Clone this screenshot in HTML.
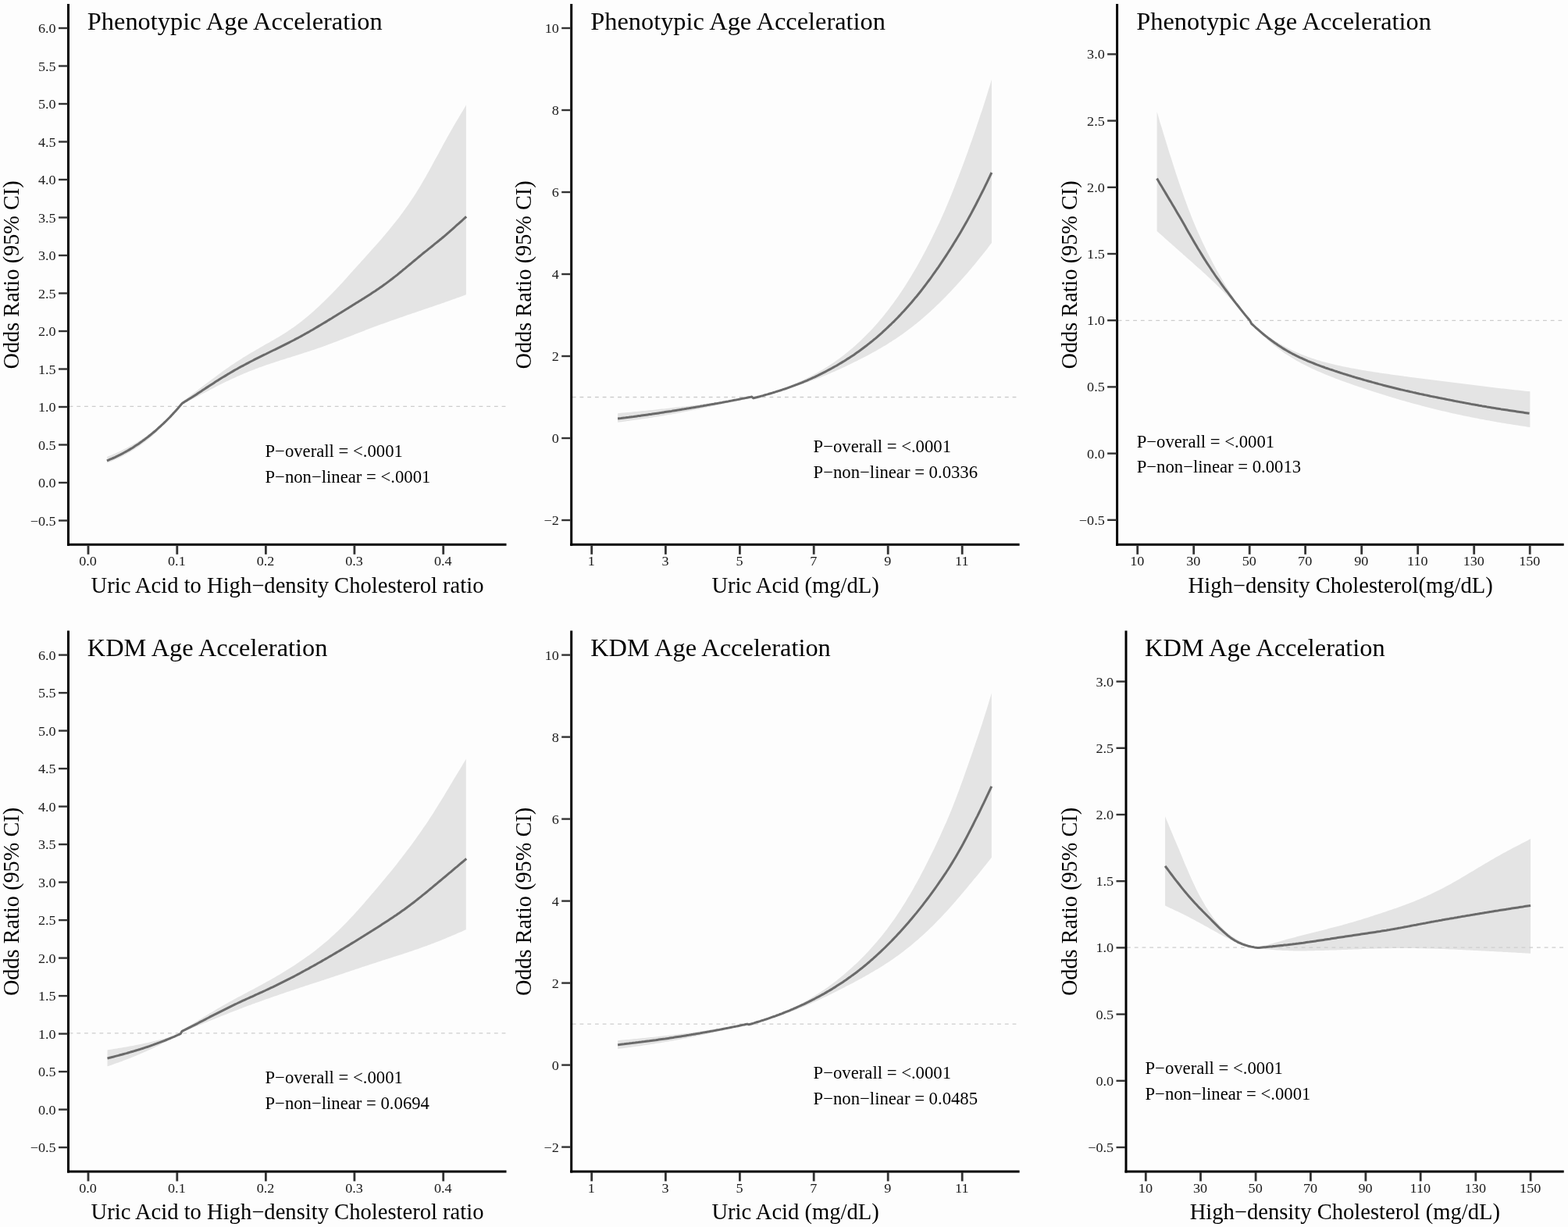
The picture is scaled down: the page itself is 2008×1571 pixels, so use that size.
<!DOCTYPE html><html><head><meta charset="utf-8"><style>html,body{margin:0;padding:0;background:#fdfdfd;}svg{display:block;}text{font-family:"Liberation Serif","Times New Roman",serif;}</style></head><body>
<svg xmlns="http://www.w3.org/2000/svg" width="2008" height="1571" viewBox="0 0 2008 1571">
<rect width="2008" height="1571" fill="#fdfdfd"/>
<path d="M137.2,584.8 L139.2,584.0 L141.2,583.2 L143.2,582.4 L145.2,581.5 L147.2,580.7 L149.2,579.8 L151.2,578.9 L153.3,578.0 L155.3,577.0 L157.3,576.0 L159.3,575.1 L161.3,574.0 L163.3,573.0 L165.3,571.9 L167.3,570.8 L169.3,569.7 L171.3,568.6 L173.3,567.4 L175.3,566.2 L177.3,565.0 L179.3,563.7 L181.3,562.4 L183.3,561.1 L185.4,559.7 L187.4,558.4 L189.4,557.0 L191.4,555.5 L193.4,554.0 L195.4,552.5 L197.4,551.0 L199.4,549.4 L201.4,547.8 L203.4,546.1 L205.4,544.4 L207.4,542.7 L209.4,540.9 L211.4,539.1 L213.4,537.3 L215.4,535.4 L217.5,533.5 L219.5,531.5 L221.5,529.5 L223.5,527.4 L225.5,525.3 L227.5,523.1 L229.5,520.9 L231.5,518.7 L233.5,514.1 L235.5,512.6 L237.5,511.2 L239.5,509.7 L241.5,508.3 L243.5,506.8 L245.6,505.3 L247.6,503.8 L249.6,502.2 L251.6,500.7 L253.6,499.2 L255.6,497.6 L257.6,496.1 L259.6,494.6 L261.6,493.0 L263.6,491.5 L265.6,490.0 L267.6,488.4 L269.6,486.9 L271.7,485.4 L273.7,483.9 L275.7,482.4 L277.7,480.9 L279.7,479.5 L281.7,478.0 L283.7,476.5 L285.7,475.1 L287.7,473.7 L289.7,472.3 L291.7,470.9 L293.7,469.5 L295.7,468.1 L297.8,466.7 L299.8,465.4 L301.8,464.1 L303.8,462.8 L305.8,461.5 L307.8,460.2 L309.8,458.9 L311.8,457.6 L313.8,456.4 L315.8,455.2 L317.8,454.0 L319.8,452.7 L321.8,451.5 L323.9,450.4 L325.9,449.2 L327.9,448.0 L329.9,446.9 L331.9,445.7 L333.9,444.6 L335.9,443.4 L337.9,442.3 L339.9,441.1 L341.9,440.0 L343.9,438.9 L345.9,437.7 L347.9,436.6 L350.0,435.4 L352.0,434.3 L354.0,433.1 L356.0,431.9 L358.0,430.7 L360.0,429.5 L362.0,428.2 L364.0,427.0 L366.0,425.7 L368.0,424.4 L370.0,423.1 L372.0,421.7 L374.0,420.3 L376.1,418.9 L378.1,417.5 L380.1,416.0 L382.1,414.5 L384.1,413.0 L386.1,411.4 L388.1,409.8 L390.1,408.2 L392.1,406.6 L394.1,404.9 L396.1,403.2 L398.1,401.5 L400.1,399.7 L402.2,397.9 L404.2,396.1 L406.2,394.3 L408.2,392.4 L410.2,390.5 L412.2,388.6 L414.2,386.7 L416.2,384.8 L418.2,382.8 L420.2,380.8 L422.2,378.8 L424.2,376.7 L426.2,374.7 L428.3,372.6 L430.3,370.5 L432.3,368.3 L434.3,366.2 L436.3,364.0 L438.3,361.9 L440.3,359.7 L442.3,357.5 L444.3,355.2 L446.3,353.0 L448.3,350.8 L450.3,348.6 L452.3,346.3 L454.4,344.1 L456.4,341.8 L458.4,339.6 L460.4,337.4 L462.4,335.1 L464.4,332.9 L466.4,330.7 L468.4,328.5 L470.4,326.3 L472.4,324.0 L474.4,321.8 L476.4,319.6 L478.4,317.3 L480.5,315.1 L482.5,312.8 L484.5,310.5 L486.5,308.2 L488.5,305.9 L490.5,303.6 L492.5,301.2 L494.5,298.8 L496.5,296.4 L498.5,294.0 L500.5,291.6 L502.5,289.1 L504.5,286.6 L506.6,284.1 L508.6,281.5 L510.6,278.9 L512.6,276.2 L514.6,273.6 L516.6,270.8 L518.6,268.1 L520.6,265.2 L522.6,262.4 L524.6,259.4 L526.6,256.5 L528.6,253.4 L530.6,250.4 L532.7,247.2 L534.7,244.0 L536.7,240.8 L538.7,237.5 L540.7,234.1 L542.7,230.6 L544.7,227.2 L546.7,223.6 L548.7,220.0 L550.7,216.4 L552.7,212.7 L554.7,209.0 L556.7,205.3 L558.8,201.6 L560.8,197.9 L562.8,194.2 L564.8,190.5 L566.8,186.8 L568.8,183.1 L570.8,179.4 L572.8,175.8 L574.8,172.2 L576.8,168.7 L578.8,165.2 L580.8,161.7 L582.8,158.3 L584.9,154.8 L586.9,151.5 L588.9,148.1 L590.9,144.7 L592.9,141.4 L594.9,138.0 L596.9,134.6 L596.9,377.2 L594.9,378.0 L592.9,378.7 L590.9,379.4 L588.9,380.2 L586.9,380.9 L584.9,381.6 L582.8,382.4 L580.8,383.1 L578.8,383.8 L576.8,384.5 L574.8,385.2 L572.8,385.9 L570.8,386.6 L568.8,387.4 L566.8,388.1 L564.8,388.8 L562.8,389.5 L560.8,390.1 L558.8,390.8 L556.7,391.5 L554.7,392.2 L552.7,392.9 L550.7,393.6 L548.7,394.3 L546.7,394.9 L544.7,395.6 L542.7,396.3 L540.7,397.0 L538.7,397.7 L536.7,398.3 L534.7,399.0 L532.7,399.7 L530.6,400.4 L528.6,401.1 L526.6,401.8 L524.6,402.4 L522.6,403.1 L520.6,403.8 L518.6,404.5 L516.6,405.2 L514.6,405.9 L512.6,406.6 L510.6,407.3 L508.6,408.0 L506.6,408.7 L504.5,409.4 L502.5,410.1 L500.5,410.8 L498.5,411.5 L496.5,412.2 L494.5,412.9 L492.5,413.7 L490.5,414.4 L488.5,415.1 L486.5,415.8 L484.5,416.6 L482.5,417.3 L480.5,418.0 L478.4,418.8 L476.4,419.5 L474.4,420.3 L472.4,421.1 L470.4,421.8 L468.4,422.6 L466.4,423.4 L464.4,424.2 L462.4,424.9 L460.4,425.7 L458.4,426.5 L456.4,427.3 L454.4,428.1 L452.3,428.9 L450.3,429.7 L448.3,430.4 L446.3,431.2 L444.3,432.0 L442.3,432.8 L440.3,433.6 L438.3,434.4 L436.3,435.1 L434.3,435.9 L432.3,436.7 L430.3,437.5 L428.3,438.2 L426.2,439.0 L424.2,439.7 L422.2,440.5 L420.2,441.2 L418.2,442.0 L416.2,442.7 L414.2,443.4 L412.2,444.2 L410.2,444.9 L408.2,445.6 L406.2,446.3 L404.2,447.0 L402.2,447.7 L400.1,448.3 L398.1,449.0 L396.1,449.7 L394.1,450.3 L392.1,451.0 L390.1,451.6 L388.1,452.3 L386.1,452.9 L384.1,453.6 L382.1,454.2 L380.1,454.8 L378.1,455.5 L376.1,456.1 L374.0,456.7 L372.0,457.4 L370.0,458.0 L368.0,458.6 L366.0,459.2 L364.0,459.9 L362.0,460.5 L360.0,461.1 L358.0,461.8 L356.0,462.4 L354.0,463.0 L352.0,463.7 L350.0,464.4 L347.9,465.0 L345.9,465.7 L343.9,466.4 L341.9,467.1 L339.9,467.7 L337.9,468.4 L335.9,469.2 L333.9,469.9 L331.9,470.6 L329.9,471.4 L327.9,472.1 L325.9,472.9 L323.9,473.7 L321.8,474.4 L319.8,475.2 L317.8,476.1 L315.8,476.9 L313.8,477.7 L311.8,478.6 L309.8,479.4 L307.8,480.3 L305.8,481.2 L303.8,482.1 L301.8,483.0 L299.8,483.9 L297.8,484.8 L295.7,485.7 L293.7,486.7 L291.7,487.7 L289.7,488.6 L287.7,489.6 L285.7,490.6 L283.7,491.6 L281.7,492.6 L279.7,493.6 L277.7,494.6 L275.7,495.7 L273.7,496.7 L271.7,497.8 L269.6,498.8 L267.6,499.9 L265.6,500.9 L263.6,502.0 L261.6,503.0 L259.6,504.1 L257.6,505.1 L255.6,506.2 L253.6,507.3 L251.6,508.3 L249.6,509.4 L247.6,510.4 L245.6,511.5 L243.5,512.5 L241.5,513.5 L239.5,514.6 L237.5,515.6 L235.5,516.6 L233.5,517.6 L231.5,518.0 L229.5,520.7 L227.5,523.4 L225.5,526.0 L223.5,528.5 L221.5,531.0 L219.5,533.4 L217.5,535.7 L215.4,538.0 L213.4,540.2 L211.4,542.4 L209.4,544.5 L207.4,546.5 L205.4,548.5 L203.4,550.5 L201.4,552.4 L199.4,554.3 L197.4,556.1 L195.4,557.9 L193.4,559.6 L191.4,561.3 L189.4,562.9 L187.4,564.5 L185.4,566.1 L183.3,567.6 L181.3,569.0 L179.3,570.5 L177.3,571.9 L175.3,573.2 L173.3,574.6 L171.3,575.8 L169.3,577.1 L167.3,578.3 L165.3,579.5 L163.3,580.6 L161.3,581.7 L159.3,582.8 L157.3,583.9 L155.3,584.9 L153.3,585.9 L151.2,586.9 L149.2,587.8 L147.2,588.7 L145.2,589.6 L143.2,590.4 L141.2,591.3 L139.2,592.1 L137.2,592.8 Z" fill="#e4e4e4"/>
<line x1="88.6" y1="520.3" x2="648.5" y2="520.3" stroke="#cdcdcd" stroke-width="1.3" stroke-dasharray="4.8 4.92"/>
<path d="M136.9,589.9 L138.9,589.1 L140.9,588.2 L142.9,587.4 L145.0,586.5 L147.0,585.6 L149.0,584.6 L151.0,583.7 L153.0,582.7 L155.0,581.6 L157.0,580.6 L159.0,579.5 L161.1,578.4 L163.1,577.3 L165.1,576.1 L167.1,574.9 L169.1,573.7 L171.1,572.4 L173.1,571.1 L175.1,569.8 L177.2,568.4 L179.2,567.0 L181.2,565.6 L183.2,564.1 L185.2,562.7 L187.2,561.1 L189.2,559.6 L191.2,558.0 L193.3,556.3 L195.3,554.7 L197.3,553.0 L199.3,551.3 L201.3,549.5 L203.3,547.7 L205.3,545.9 L207.3,544.0 L209.4,542.1 L211.4,540.2 L213.4,538.2 L215.4,536.2 L217.4,534.2 L219.4,532.1 L221.4,529.9 L223.4,527.8 L225.5,525.5 L227.5,523.3 L229.5,520.9 L231.5,518.5 L233.5,516.3 L235.5,515.1 L237.5,513.8 L239.5,512.6 L241.5,511.3 L243.6,510.0 L245.6,508.8 L247.6,507.5 L249.6,506.2 L251.6,504.9 L253.6,503.5 L255.6,502.2 L257.6,500.9 L259.6,499.6 L261.6,498.3 L263.6,496.9 L265.7,495.6 L267.7,494.3 L269.7,493.0 L271.7,491.7 L273.7,490.4 L275.7,489.1 L277.7,487.8 L279.7,486.6 L281.7,485.3 L283.7,484.0 L285.8,482.8 L287.8,481.6 L289.8,480.4 L291.8,479.1 L293.8,478.0 L295.8,476.8 L297.8,475.6 L299.8,474.4 L301.8,473.3 L303.8,472.2 L305.8,471.0 L307.9,469.9 L309.9,468.8 L311.9,467.8 L313.9,466.7 L315.9,465.6 L317.9,464.6 L319.9,463.5 L321.9,462.5 L323.9,461.5 L325.9,460.4 L327.9,459.4 L330.0,458.4 L332.0,457.4 L334.0,456.4 L336.0,455.4 L338.0,454.4 L340.0,453.5 L342.0,452.5 L344.0,451.5 L346.0,450.5 L348.0,449.5 L350.1,448.5 L352.1,447.6 L354.1,446.6 L356.1,445.6 L358.1,444.6 L360.1,443.6 L362.1,442.6 L364.1,441.6 L366.1,440.6 L368.1,439.6 L370.1,438.6 L372.2,437.5 L374.2,436.5 L376.2,435.5 L378.2,434.4 L380.2,433.3 L382.2,432.3 L384.2,431.2 L386.2,430.1 L388.2,429.0 L390.2,427.9 L392.2,426.8 L394.3,425.6 L396.3,424.5 L398.3,423.3 L400.3,422.2 L402.3,421.0 L404.3,419.8 L406.3,418.6 L408.3,417.4 L410.3,416.2 L412.3,415.0 L414.4,413.8 L416.4,412.6 L418.4,411.4 L420.4,410.1 L422.4,408.9 L424.4,407.7 L426.4,406.4 L428.4,405.2 L430.4,404.0 L432.4,402.7 L434.4,401.5 L436.5,400.3 L438.5,399.0 L440.5,397.8 L442.5,396.5 L444.5,395.3 L446.5,394.1 L448.5,392.8 L450.5,391.6 L452.5,390.3 L454.5,389.1 L456.5,387.8 L458.6,386.6 L460.6,385.3 L462.6,384.1 L464.6,382.8 L466.6,381.6 L468.6,380.3 L470.6,379.0 L472.6,377.7 L474.6,376.4 L476.6,375.1 L478.6,373.8 L480.7,372.5 L482.7,371.1 L484.7,369.7 L486.7,368.3 L488.7,366.9 L490.7,365.5 L492.7,364.1 L494.7,362.6 L496.7,361.1 L498.7,359.6 L500.8,358.0 L502.8,356.5 L504.8,354.9 L506.8,353.4 L508.8,351.8 L510.8,350.1 L512.8,348.5 L514.8,346.9 L516.8,345.2 L518.8,343.6 L520.8,341.9 L522.9,340.2 L524.9,338.5 L526.9,336.9 L528.9,335.2 L530.9,333.5 L532.9,331.8 L534.9,330.2 L536.9,328.5 L538.9,326.8 L540.9,325.2 L542.9,323.5 L545.0,321.9 L547.0,320.3 L549.0,318.7 L551.0,317.1 L553.0,315.5 L555.0,313.8 L557.0,312.2 L559.0,310.6 L561.0,309.0 L563.0,307.3 L565.1,305.7 L567.1,304.0 L569.1,302.3 L571.1,300.6 L573.1,298.8 L575.1,297.1 L577.1,295.3 L579.1,293.6 L581.1,291.8 L583.1,290.0 L585.1,288.2 L587.2,286.4 L589.2,284.6 L591.2,282.8 L593.2,281.0 L595.2,279.2 L597.2,277.3" fill="none" stroke="#6a6a6a" stroke-width="3" stroke-linejoin="round"/>
<line x1="87.5" y1="5.0" x2="87.5" y2="698.8" stroke="#000" stroke-width="3"/>
<line x1="86.0" y1="697.3" x2="648.5" y2="697.3" stroke="#000" stroke-width="3"/>
<line x1="75.0" y1="666.5" x2="86.5" y2="666.5" stroke="#333" stroke-width="2.4"/>
<text transform="translate(71.7,672.5) scale(1.07,1)" font-size="17.0" text-anchor="end" fill="#1a1a1a">−0.5</text>
<line x1="75.0" y1="618.0" x2="86.5" y2="618.0" stroke="#333" stroke-width="2.4"/>
<text transform="translate(71.7,624.0) scale(1.07,1)" font-size="17.0" text-anchor="end" fill="#1a1a1a">0.0</text>
<line x1="75.0" y1="569.5" x2="86.5" y2="569.5" stroke="#333" stroke-width="2.4"/>
<text transform="translate(71.7,575.5) scale(1.07,1)" font-size="17.0" text-anchor="end" fill="#1a1a1a">0.5</text>
<line x1="75.0" y1="521.0" x2="86.5" y2="521.0" stroke="#333" stroke-width="2.4"/>
<text transform="translate(71.7,527.0) scale(1.07,1)" font-size="17.0" text-anchor="end" fill="#1a1a1a">1.0</text>
<line x1="75.0" y1="472.5" x2="86.5" y2="472.5" stroke="#333" stroke-width="2.4"/>
<text transform="translate(71.7,478.5) scale(1.07,1)" font-size="17.0" text-anchor="end" fill="#1a1a1a">1.5</text>
<line x1="75.0" y1="424.0" x2="86.5" y2="424.0" stroke="#333" stroke-width="2.4"/>
<text transform="translate(71.7,430.0) scale(1.07,1)" font-size="17.0" text-anchor="end" fill="#1a1a1a">2.0</text>
<line x1="75.0" y1="375.5" x2="86.5" y2="375.5" stroke="#333" stroke-width="2.4"/>
<text transform="translate(71.7,381.5) scale(1.07,1)" font-size="17.0" text-anchor="end" fill="#1a1a1a">2.5</text>
<line x1="75.0" y1="327.0" x2="86.5" y2="327.0" stroke="#333" stroke-width="2.4"/>
<text transform="translate(71.7,333.0) scale(1.07,1)" font-size="17.0" text-anchor="end" fill="#1a1a1a">3.0</text>
<line x1="75.0" y1="278.5" x2="86.5" y2="278.5" stroke="#333" stroke-width="2.4"/>
<text transform="translate(71.7,284.5) scale(1.07,1)" font-size="17.0" text-anchor="end" fill="#1a1a1a">3.5</text>
<line x1="75.0" y1="230.0" x2="86.5" y2="230.0" stroke="#333" stroke-width="2.4"/>
<text transform="translate(71.7,236.0) scale(1.07,1)" font-size="17.0" text-anchor="end" fill="#1a1a1a">4.0</text>
<line x1="75.0" y1="181.5" x2="86.5" y2="181.5" stroke="#333" stroke-width="2.4"/>
<text transform="translate(71.7,187.5) scale(1.07,1)" font-size="17.0" text-anchor="end" fill="#1a1a1a">4.5</text>
<line x1="75.0" y1="133.0" x2="86.5" y2="133.0" stroke="#333" stroke-width="2.4"/>
<text transform="translate(71.7,139.0) scale(1.07,1)" font-size="17.0" text-anchor="end" fill="#1a1a1a">5.0</text>
<line x1="75.0" y1="84.5" x2="86.5" y2="84.5" stroke="#333" stroke-width="2.4"/>
<text transform="translate(71.7,90.5) scale(1.07,1)" font-size="17.0" text-anchor="end" fill="#1a1a1a">5.5</text>
<line x1="75.0" y1="36.0" x2="86.5" y2="36.0" stroke="#333" stroke-width="2.4"/>
<text transform="translate(71.7,42.0) scale(1.07,1)" font-size="17.0" text-anchor="end" fill="#1a1a1a">6.0</text>
<line x1="113.0" y1="698.3" x2="113.0" y2="709.8" stroke="#333" stroke-width="2.8"/>
<text transform="translate(112.6,724.2) scale(1.07,1)" font-size="17.0" text-anchor="middle" fill="#1a1a1a">0.0</text>
<line x1="226.8" y1="698.3" x2="226.8" y2="709.8" stroke="#333" stroke-width="2.8"/>
<text transform="translate(226.4,724.2) scale(1.07,1)" font-size="17.0" text-anchor="middle" fill="#1a1a1a">0.1</text>
<line x1="340.4" y1="698.3" x2="340.4" y2="709.8" stroke="#333" stroke-width="2.8"/>
<text transform="translate(340.0,724.2) scale(1.07,1)" font-size="17.0" text-anchor="middle" fill="#1a1a1a">0.2</text>
<line x1="453.9" y1="698.3" x2="453.9" y2="709.8" stroke="#333" stroke-width="2.8"/>
<text transform="translate(453.5,724.2) scale(1.07,1)" font-size="17.0" text-anchor="middle" fill="#1a1a1a">0.3</text>
<line x1="567.7" y1="698.3" x2="567.7" y2="709.8" stroke="#333" stroke-width="2.8"/>
<text transform="translate(567.3,724.2) scale(1.07,1)" font-size="17.0" text-anchor="middle" fill="#1a1a1a">0.4</text>
<text x="111.8" y="37.5" font-size="32.4" fill="#000">Phenotypic Age Acceleration</text>
<text x="368.0" y="758.6" font-size="28.6" text-anchor="middle" fill="#000">Uric Acid to High−density Cholesterol ratio</text>
<text transform="translate(24.0,351.9) rotate(-90) scale(1,1.07)" font-size="28.3" text-anchor="middle" fill="#000">Odds Ratio (95% CI)</text>
<text x="339.5" y="585.0" font-size="22.7" fill="#000">P−overall = &lt;.0001</text>
<text x="339.5" y="617.8" font-size="22.7" fill="#000">P−non−linear = &lt;.0001</text>
<path d="M791.1,529.2 L793.1,529.0 L795.1,528.8 L797.2,528.6 L799.2,528.4 L801.2,528.3 L803.2,528.1 L805.2,527.9 L807.3,527.7 L809.3,527.5 L811.3,527.3 L813.3,527.1 L815.3,526.9 L817.4,526.7 L819.4,526.5 L821.4,526.3 L823.4,526.1 L825.4,525.9 L827.5,525.7 L829.5,525.5 L831.5,525.3 L833.5,525.1 L835.5,524.9 L837.6,524.7 L839.6,524.4 L841.6,524.2 L843.6,524.0 L845.6,523.8 L847.7,523.6 L849.7,523.4 L851.7,523.2 L853.7,522.9 L855.7,522.7 L857.8,522.5 L859.8,522.3 L861.8,522.0 L863.8,521.8 L865.8,521.6 L867.9,521.3 L869.9,521.1 L871.9,520.9 L873.9,520.6 L875.9,520.4 L878.0,520.2 L880.0,519.9 L882.0,519.7 L884.0,519.4 L886.0,519.2 L888.1,518.9 L890.1,518.7 L892.1,518.4 L894.1,518.2 L896.1,517.9 L898.2,517.7 L900.2,517.4 L902.2,517.1 L904.2,516.9 L906.2,516.6 L908.3,516.3 L910.3,516.1 L912.3,515.8 L914.3,515.5 L916.3,515.2 L918.4,515.0 L920.4,514.7 L922.4,514.4 L924.4,514.1 L926.4,513.8 L928.5,513.5 L930.5,513.2 L932.5,513.0 L934.5,512.7 L936.5,512.4 L938.6,512.1 L940.6,511.8 L942.6,511.5 L944.6,511.2 L946.6,510.9 L948.7,510.6 L950.7,510.2 L952.7,509.9 L954.7,509.6 L956.7,509.3 L958.8,509.0 L960.8,508.7 L962.8,508.4 L964.8,509.6 L966.8,509.0 L968.8,508.4 L970.8,507.8 L972.8,507.2 L974.8,506.6 L976.9,506.0 L978.9,505.4 L980.9,504.7 L982.9,504.1 L984.9,503.4 L986.9,502.8 L988.9,502.1 L990.9,501.4 L992.9,500.7 L994.9,500.0 L996.9,499.3 L998.9,498.6 L1000.9,497.9 L1002.9,497.1 L1005.0,496.4 L1007.0,495.6 L1009.0,494.8 L1011.0,494.0 L1013.0,493.2 L1015.0,492.4 L1017.0,491.6 L1019.0,490.7 L1021.0,489.9 L1023.0,489.0 L1025.0,488.1 L1027.0,487.2 L1029.0,486.2 L1031.0,485.3 L1033.1,484.3 L1035.1,483.3 L1037.1,482.3 L1039.1,481.3 L1041.1,480.2 L1043.1,479.1 L1045.1,478.0 L1047.1,476.9 L1049.1,475.8 L1051.1,474.6 L1053.1,473.4 L1055.1,472.2 L1057.1,471.0 L1059.1,469.7 L1061.2,468.4 L1063.2,467.1 L1065.2,465.8 L1067.2,464.4 L1069.2,463.0 L1071.2,461.6 L1073.2,460.2 L1075.2,458.7 L1077.2,457.2 L1079.2,455.7 L1081.2,454.2 L1083.2,452.6 L1085.2,451.0 L1087.2,449.3 L1089.3,447.6 L1091.3,445.9 L1093.3,444.2 L1095.3,442.4 L1097.3,440.6 L1099.3,438.8 L1101.3,436.9 L1103.3,435.0 L1105.3,433.1 L1107.3,431.1 L1109.3,429.1 L1111.3,427.1 L1113.3,425.0 L1115.3,422.9 L1117.4,420.7 L1119.4,418.5 L1121.4,416.3 L1123.4,414.0 L1125.4,411.7 L1127.4,409.3 L1129.4,406.9 L1131.4,404.5 L1133.4,402.0 L1135.4,399.4 L1137.4,396.9 L1139.4,394.2 L1141.4,391.6 L1143.4,388.9 L1145.5,386.1 L1147.5,383.3 L1149.5,380.4 L1151.5,377.5 L1153.5,374.6 L1155.5,371.6 L1157.5,368.6 L1159.5,365.5 L1161.5,362.3 L1163.5,359.1 L1165.5,355.8 L1167.5,352.5 L1169.5,349.1 L1171.5,345.7 L1173.6,342.2 L1175.6,338.7 L1177.6,335.1 L1179.6,331.4 L1181.6,327.7 L1183.6,324.0 L1185.6,320.2 L1187.6,316.3 L1189.6,312.4 L1191.6,308.4 L1193.6,304.4 L1195.6,300.3 L1197.6,296.2 L1199.6,292.0 L1201.7,287.7 L1203.7,283.4 L1205.7,279.0 L1207.7,274.5 L1209.7,270.0 L1211.7,265.3 L1213.7,260.6 L1215.7,255.8 L1217.7,250.9 L1219.7,246.0 L1221.7,240.9 L1223.7,235.8 L1225.7,230.6 L1227.7,225.4 L1229.8,220.1 L1231.8,214.8 L1233.8,209.4 L1235.8,204.0 L1237.8,198.5 L1239.8,192.9 L1241.8,187.3 L1243.8,181.7 L1245.8,176.0 L1247.8,170.2 L1249.8,164.4 L1251.8,158.6 L1253.8,152.6 L1255.8,146.6 L1257.9,140.5 L1259.9,134.3 L1261.9,128.0 L1263.9,121.6 L1265.9,115.1 L1267.9,108.5 L1269.9,101.7 L1269.9,311.0 L1267.9,313.6 L1265.9,316.3 L1263.9,318.9 L1261.9,321.5 L1259.9,324.0 L1257.9,326.6 L1255.8,329.1 L1253.8,331.5 L1251.8,334.0 L1249.8,336.5 L1247.8,338.9 L1245.8,341.3 L1243.8,343.7 L1241.8,346.0 L1239.8,348.4 L1237.8,350.7 L1235.8,353.0 L1233.8,355.3 L1231.8,357.5 L1229.8,359.8 L1227.7,362.0 L1225.7,364.2 L1223.7,366.4 L1221.7,368.6 L1219.7,370.7 L1217.7,372.9 L1215.7,375.0 L1213.7,377.1 L1211.7,379.2 L1209.7,381.2 L1207.7,383.2 L1205.7,385.3 L1203.7,387.2 L1201.7,389.2 L1199.6,391.1 L1197.6,393.1 L1195.6,395.0 L1193.6,396.8 L1191.6,398.7 L1189.6,400.5 L1187.6,402.3 L1185.6,404.1 L1183.6,405.8 L1181.6,407.5 L1179.6,409.2 L1177.6,410.9 L1175.6,412.6 L1173.6,414.2 L1171.5,415.8 L1169.5,417.4 L1167.5,419.0 L1165.5,420.5 L1163.5,422.0 L1161.5,423.5 L1159.5,425.0 L1157.5,426.5 L1155.5,427.9 L1153.5,429.3 L1151.5,430.7 L1149.5,432.1 L1147.5,433.4 L1145.5,434.8 L1143.4,436.1 L1141.4,437.4 L1139.4,438.6 L1137.4,439.9 L1135.4,441.2 L1133.4,442.4 L1131.4,443.6 L1129.4,444.8 L1127.4,446.0 L1125.4,447.1 L1123.4,448.3 L1121.4,449.4 L1119.4,450.5 L1117.4,451.6 L1115.3,452.7 L1113.3,453.8 L1111.3,454.9 L1109.3,456.0 L1107.3,457.0 L1105.3,458.1 L1103.3,459.1 L1101.3,460.1 L1099.3,461.1 L1097.3,462.2 L1095.3,463.1 L1093.3,464.1 L1091.3,465.1 L1089.3,466.1 L1087.2,467.1 L1085.2,468.0 L1083.2,469.0 L1081.2,469.9 L1079.2,470.8 L1077.2,471.8 L1075.2,472.7 L1073.2,473.6 L1071.2,474.5 L1069.2,475.4 L1067.2,476.2 L1065.2,477.1 L1063.2,478.0 L1061.2,478.8 L1059.1,479.7 L1057.1,480.5 L1055.1,481.3 L1053.1,482.1 L1051.1,482.9 L1049.1,483.7 L1047.1,484.5 L1045.1,485.3 L1043.1,486.1 L1041.1,486.8 L1039.1,487.6 L1037.1,488.3 L1035.1,489.0 L1033.1,489.7 L1031.0,490.5 L1029.0,491.2 L1027.0,491.8 L1025.0,492.5 L1023.0,493.2 L1021.0,493.9 L1019.0,494.5 L1017.0,495.2 L1015.0,495.8 L1013.0,496.4 L1011.0,497.1 L1009.0,497.7 L1007.0,498.3 L1005.0,498.9 L1002.9,499.5 L1000.9,500.0 L998.9,500.6 L996.9,501.2 L994.9,501.7 L992.9,502.3 L990.9,502.8 L988.9,503.4 L986.9,503.9 L984.9,504.4 L982.9,505.0 L980.9,505.5 L978.9,506.0 L976.9,506.5 L974.8,507.0 L972.8,507.5 L970.8,508.0 L968.8,508.5 L966.8,508.9 L964.8,509.4 L962.8,507.6 L960.8,508.2 L958.8,508.7 L956.7,509.3 L954.7,509.8 L952.7,510.3 L950.7,510.9 L948.7,511.4 L946.6,511.9 L944.6,512.4 L942.6,512.9 L940.6,513.4 L938.6,513.9 L936.5,514.4 L934.5,514.9 L932.5,515.4 L930.5,515.9 L928.5,516.4 L926.4,516.8 L924.4,517.3 L922.4,517.8 L920.4,518.2 L918.4,518.7 L916.3,519.1 L914.3,519.6 L912.3,520.0 L910.3,520.5 L908.3,520.9 L906.2,521.3 L904.2,521.8 L902.2,522.2 L900.2,522.6 L898.2,523.0 L896.1,523.5 L894.1,523.9 L892.1,524.3 L890.1,524.7 L888.1,525.1 L886.0,525.5 L884.0,525.9 L882.0,526.3 L880.0,526.7 L878.0,527.1 L875.9,527.5 L873.9,527.8 L871.9,528.2 L869.9,528.6 L867.9,529.0 L865.8,529.3 L863.8,529.7 L861.8,530.1 L859.8,530.4 L857.8,530.8 L855.7,531.1 L853.7,531.5 L851.7,531.8 L849.7,532.2 L847.7,532.5 L845.6,532.8 L843.6,533.2 L841.6,533.5 L839.6,533.8 L837.6,534.1 L835.5,534.5 L833.5,534.8 L831.5,535.1 L829.5,535.4 L827.5,535.7 L825.4,536.0 L823.4,536.3 L821.4,536.6 L819.4,536.9 L817.4,537.2 L815.3,537.5 L813.3,537.8 L811.3,538.0 L809.3,538.3 L807.3,538.6 L805.2,538.9 L803.2,539.1 L801.2,539.4 L799.2,539.7 L797.2,539.9 L795.1,540.2 L793.1,540.4 L791.1,540.7 Z" fill="#e4e4e4"/>
<line x1="732.8" y1="508.5" x2="1305.6" y2="508.5" stroke="#cdcdcd" stroke-width="1.3" stroke-dasharray="4.8 4.92"/>
<path d="M791.1,536.1 L793.1,535.8 L795.1,535.6 L797.2,535.3 L799.2,535.0 L801.2,534.8 L803.2,534.5 L805.2,534.3 L807.3,534.0 L809.3,533.7 L811.3,533.5 L813.3,533.2 L815.3,532.9 L817.4,532.6 L819.4,532.4 L821.4,532.1 L823.4,531.8 L825.4,531.5 L827.5,531.2 L829.5,530.9 L831.5,530.6 L833.5,530.4 L835.5,530.1 L837.6,529.8 L839.6,529.5 L841.6,529.2 L843.6,528.9 L845.6,528.6 L847.7,528.2 L849.7,527.9 L851.7,527.6 L853.7,527.3 L855.7,527.0 L857.8,526.7 L859.8,526.4 L861.8,526.0 L863.8,525.7 L865.8,525.4 L867.9,525.1 L869.9,524.7 L871.9,524.4 L873.9,524.1 L875.9,523.8 L878.0,523.4 L880.0,523.1 L882.0,522.8 L884.0,522.4 L886.0,522.1 L888.1,521.7 L890.1,521.4 L892.1,521.1 L894.1,520.7 L896.1,520.4 L898.2,520.0 L900.2,519.7 L902.2,519.3 L904.2,519.0 L906.2,518.6 L908.3,518.3 L910.3,517.9 L912.3,517.5 L914.3,517.2 L916.3,516.8 L918.4,516.5 L920.4,516.1 L922.4,515.7 L924.4,515.4 L926.4,515.0 L928.5,514.6 L930.5,514.2 L932.5,513.9 L934.5,513.5 L936.5,513.1 L938.6,512.7 L940.6,512.3 L942.6,512.0 L944.6,511.6 L946.6,511.2 L948.7,510.8 L950.7,510.4 L952.7,510.0 L954.7,509.6 L956.7,509.2 L958.8,508.8 L960.8,508.4 L962.8,508.0 L964.8,509.8 L966.8,509.3 L968.8,508.8 L970.8,508.2 L972.8,507.7 L974.8,507.1 L976.9,506.6 L978.9,506.0 L980.9,505.4 L982.9,504.9 L984.9,504.3 L986.9,503.7 L988.9,503.1 L990.9,502.5 L992.9,501.9 L994.9,501.2 L996.9,500.6 L998.9,500.0 L1000.9,499.3 L1002.9,498.6 L1005.0,498.0 L1007.0,497.3 L1009.0,496.6 L1011.0,495.9 L1013.0,495.2 L1015.0,494.4 L1017.0,493.7 L1019.0,492.9 L1021.0,492.2 L1023.0,491.4 L1025.0,490.6 L1027.0,489.8 L1029.0,489.0 L1031.0,488.1 L1033.1,487.3 L1035.1,486.4 L1037.1,485.5 L1039.1,484.6 L1041.1,483.7 L1043.1,482.8 L1045.1,481.8 L1047.1,480.9 L1049.1,479.9 L1051.1,478.9 L1053.1,477.9 L1055.1,476.9 L1057.1,475.9 L1059.1,474.8 L1061.2,473.7 L1063.2,472.6 L1065.2,471.5 L1067.2,470.4 L1069.2,469.3 L1071.2,468.2 L1073.2,467.0 L1075.2,465.8 L1077.2,464.6 L1079.2,463.4 L1081.2,462.2 L1083.2,460.9 L1085.2,459.6 L1087.2,458.4 L1089.3,457.0 L1091.3,455.7 L1093.3,454.4 L1095.3,453.0 L1097.3,451.6 L1099.3,450.2 L1101.3,448.8 L1103.3,447.3 L1105.3,445.8 L1107.3,444.3 L1109.3,442.8 L1111.3,441.2 L1113.3,439.6 L1115.3,438.0 L1117.4,436.4 L1119.4,434.7 L1121.4,433.1 L1123.4,431.4 L1125.4,429.6 L1127.4,427.8 L1129.4,426.1 L1131.4,424.2 L1133.4,422.4 L1135.4,420.5 L1137.4,418.6 L1139.4,416.7 L1141.4,414.8 L1143.4,412.8 L1145.5,410.8 L1147.5,408.7 L1149.5,406.7 L1151.5,404.6 L1153.5,402.5 L1155.5,400.3 L1157.5,398.2 L1159.5,396.0 L1161.5,393.7 L1163.5,391.5 L1165.5,389.2 L1167.5,386.9 L1169.5,384.5 L1171.5,382.1 L1173.6,379.7 L1175.6,377.2 L1177.6,374.7 L1179.6,372.2 L1181.6,369.6 L1183.6,367.0 L1185.6,364.4 L1187.6,361.7 L1189.6,359.0 L1191.6,356.3 L1193.6,353.5 L1195.6,350.7 L1197.6,347.9 L1199.6,345.0 L1201.7,342.1 L1203.7,339.2 L1205.7,336.2 L1207.7,333.2 L1209.7,330.2 L1211.7,327.1 L1213.7,324.0 L1215.7,320.9 L1217.7,317.8 L1219.7,314.6 L1221.7,311.3 L1223.7,308.1 L1225.7,304.8 L1227.7,301.4 L1229.8,298.0 L1231.8,294.6 L1233.8,291.1 L1235.8,287.6 L1237.8,284.1 L1239.8,280.4 L1241.8,276.8 L1243.8,273.1 L1245.8,269.3 L1247.8,265.5 L1249.8,261.7 L1251.8,257.8 L1253.8,253.8 L1255.8,249.9 L1257.9,245.8 L1259.9,241.8 L1261.9,237.7 L1263.9,233.6 L1265.9,229.4 L1267.9,225.2 L1269.9,221.0" fill="none" stroke="#6a6a6a" stroke-width="3" stroke-linejoin="round"/>
<line x1="731.7" y1="5.0" x2="731.7" y2="698.8" stroke="#000" stroke-width="3"/>
<line x1="730.2" y1="697.3" x2="1305.6" y2="697.3" stroke="#000" stroke-width="3"/>
<line x1="719.2" y1="666.0" x2="730.7" y2="666.0" stroke="#333" stroke-width="2.4"/>
<text transform="translate(715.9,672.0) scale(1.07,1)" font-size="17.0" text-anchor="end" fill="#1a1a1a">−2</text>
<line x1="719.2" y1="561.0" x2="730.7" y2="561.0" stroke="#333" stroke-width="2.4"/>
<text transform="translate(715.9,567.0) scale(1.07,1)" font-size="17.0" text-anchor="end" fill="#1a1a1a">0</text>
<line x1="719.2" y1="456.0" x2="730.7" y2="456.0" stroke="#333" stroke-width="2.4"/>
<text transform="translate(715.9,462.0) scale(1.07,1)" font-size="17.0" text-anchor="end" fill="#1a1a1a">2</text>
<line x1="719.2" y1="351.0" x2="730.7" y2="351.0" stroke="#333" stroke-width="2.4"/>
<text transform="translate(715.9,357.0) scale(1.07,1)" font-size="17.0" text-anchor="end" fill="#1a1a1a">4</text>
<line x1="719.2" y1="246.0" x2="730.7" y2="246.0" stroke="#333" stroke-width="2.4"/>
<text transform="translate(715.9,252.0) scale(1.07,1)" font-size="17.0" text-anchor="end" fill="#1a1a1a">6</text>
<line x1="719.2" y1="141.0" x2="730.7" y2="141.0" stroke="#333" stroke-width="2.4"/>
<text transform="translate(715.9,147.0) scale(1.07,1)" font-size="17.0" text-anchor="end" fill="#1a1a1a">8</text>
<line x1="719.2" y1="36.0" x2="730.7" y2="36.0" stroke="#333" stroke-width="2.4"/>
<text transform="translate(715.9,42.0) scale(1.07,1)" font-size="17.0" text-anchor="end" fill="#1a1a1a">10</text>
<line x1="757.7" y1="698.3" x2="757.7" y2="709.8" stroke="#333" stroke-width="2.8"/>
<text transform="translate(757.3,724.2) scale(1.07,1)" font-size="17.0" text-anchor="middle" fill="#1a1a1a">1</text>
<line x1="852.4" y1="698.3" x2="852.4" y2="709.8" stroke="#333" stroke-width="2.8"/>
<text transform="translate(852.0,724.2) scale(1.07,1)" font-size="17.0" text-anchor="middle" fill="#1a1a1a">3</text>
<line x1="947.4" y1="698.3" x2="947.4" y2="709.8" stroke="#333" stroke-width="2.8"/>
<text transform="translate(947.0,724.2) scale(1.07,1)" font-size="17.0" text-anchor="middle" fill="#1a1a1a">5</text>
<line x1="1042.2" y1="698.3" x2="1042.2" y2="709.8" stroke="#333" stroke-width="2.8"/>
<text transform="translate(1041.8,724.2) scale(1.07,1)" font-size="17.0" text-anchor="middle" fill="#1a1a1a">7</text>
<line x1="1137.2" y1="698.3" x2="1137.2" y2="709.8" stroke="#333" stroke-width="2.8"/>
<text transform="translate(1136.8,724.2) scale(1.07,1)" font-size="17.0" text-anchor="middle" fill="#1a1a1a">9</text>
<line x1="1232.2" y1="698.3" x2="1232.2" y2="709.8" stroke="#333" stroke-width="2.8"/>
<text transform="translate(1231.8,724.2) scale(1.07,1)" font-size="17.0" text-anchor="middle" fill="#1a1a1a">11</text>
<text x="756.2" y="37.5" font-size="32.4" fill="#000">Phenotypic Age Acceleration</text>
<text x="1018.6" y="758.6" font-size="28.6" text-anchor="middle" fill="#000">Uric Acid (mg/dL)</text>
<text transform="translate(679.8,351.9) rotate(-90) scale(1,1.07)" font-size="28.3" text-anchor="middle" fill="#000">Odds Ratio (95% CI)</text>
<text x="1041.6" y="578.6" font-size="22.7" fill="#000">P−overall = &lt;.0001</text>
<text x="1041.6" y="611.6" font-size="22.7" fill="#000">P−non−linear = 0.0336</text>
<path d="M1481.6,143.1 L1483.6,150.0 L1485.6,156.9 L1487.7,163.6 L1489.7,170.2 L1491.7,176.8 L1493.7,183.3 L1495.7,189.8 L1497.7,196.3 L1499.8,202.6 L1501.8,208.9 L1503.8,215.2 L1505.8,221.4 L1507.8,227.5 L1509.8,233.5 L1511.9,239.5 L1513.9,245.3 L1515.9,251.0 L1517.9,256.6 L1519.9,262.1 L1521.9,267.5 L1524.0,272.8 L1526.0,277.9 L1528.0,282.9 L1530.0,287.7 L1532.0,292.5 L1534.0,297.1 L1536.1,301.6 L1538.1,306.0 L1540.1,310.4 L1542.1,314.6 L1544.1,318.8 L1546.1,322.9 L1548.2,326.9 L1550.2,330.8 L1552.2,334.7 L1554.2,338.5 L1556.2,342.2 L1558.2,345.9 L1560.3,349.5 L1562.3,353.0 L1564.3,356.5 L1566.3,360.0 L1568.3,363.4 L1570.3,366.7 L1572.4,370.0 L1574.4,373.2 L1576.4,376.4 L1578.4,379.5 L1580.4,382.6 L1582.4,385.6 L1584.5,388.6 L1586.5,391.6 L1588.5,394.5 L1590.5,397.3 L1592.5,400.1 L1594.5,402.9 L1596.6,405.6 L1598.6,408.2 L1600.6,410.9 L1602.6,414.0 L1604.6,415.7 L1606.6,417.3 L1608.6,418.9 L1610.6,420.5 L1612.6,422.0 L1614.6,423.6 L1616.6,425.1 L1618.6,426.6 L1620.6,428.0 L1622.6,429.5 L1624.7,430.9 L1626.7,432.2 L1628.7,433.6 L1630.7,434.9 L1632.7,436.2 L1634.7,437.4 L1636.7,438.7 L1638.7,439.9 L1640.7,441.0 L1642.7,442.2 L1644.7,443.3 L1646.7,444.4 L1648.7,445.4 L1650.7,446.5 L1652.7,447.5 L1654.7,448.5 L1656.7,449.4 L1658.7,450.3 L1660.7,451.2 L1662.7,452.1 L1664.7,453.0 L1666.7,453.8 L1668.8,454.6 L1670.8,455.4 L1672.8,456.1 L1674.8,456.9 L1676.8,457.6 L1678.8,458.3 L1680.8,459.0 L1682.8,459.6 L1684.8,460.3 L1686.8,460.9 L1688.8,461.5 L1690.8,462.1 L1692.8,462.7 L1694.8,463.2 L1696.8,463.8 L1698.8,464.3 L1700.8,464.8 L1702.8,465.3 L1704.8,465.8 L1706.8,466.3 L1708.8,466.8 L1710.8,467.2 L1712.9,467.7 L1714.9,468.1 L1716.9,468.6 L1718.9,469.0 L1720.9,469.4 L1722.9,469.8 L1724.9,470.2 L1726.9,470.6 L1728.9,471.0 L1730.9,471.4 L1732.9,471.7 L1734.9,472.1 L1736.9,472.5 L1738.9,472.8 L1740.9,473.2 L1742.9,473.5 L1744.9,473.9 L1746.9,474.2 L1748.9,474.5 L1750.9,474.9 L1752.9,475.2 L1754.9,475.5 L1756.9,475.8 L1759.0,476.2 L1761.0,476.5 L1763.0,476.8 L1765.0,477.1 L1767.0,477.4 L1769.0,477.7 L1771.0,478.0 L1773.0,478.3 L1775.0,478.6 L1777.0,478.8 L1779.0,479.1 L1781.0,479.4 L1783.0,479.7 L1785.0,480.0 L1787.0,480.3 L1789.0,480.5 L1791.0,480.8 L1793.0,481.1 L1795.0,481.3 L1797.0,481.6 L1799.0,481.9 L1801.0,482.1 L1803.1,482.4 L1805.1,482.7 L1807.1,482.9 L1809.1,483.2 L1811.1,483.4 L1813.1,483.7 L1815.1,483.9 L1817.1,484.2 L1819.1,484.5 L1821.1,484.7 L1823.1,485.0 L1825.1,485.2 L1827.1,485.5 L1829.1,485.7 L1831.1,486.0 L1833.1,486.2 L1835.1,486.5 L1837.1,486.7 L1839.1,487.0 L1841.1,487.2 L1843.1,487.5 L1845.1,487.7 L1847.1,488.0 L1849.2,488.3 L1851.2,488.5 L1853.2,488.8 L1855.2,489.0 L1857.2,489.3 L1859.2,489.5 L1861.2,489.8 L1863.2,490.0 L1865.2,490.3 L1867.2,490.6 L1869.2,490.8 L1871.2,491.1 L1873.2,491.3 L1875.2,491.6 L1877.2,491.8 L1879.2,492.1 L1881.2,492.3 L1883.2,492.6 L1885.2,492.8 L1887.2,493.1 L1889.2,493.3 L1891.2,493.6 L1893.3,493.8 L1895.3,494.1 L1897.3,494.3 L1899.3,494.6 L1901.3,494.8 L1903.3,495.0 L1905.3,495.3 L1907.3,495.5 L1909.3,495.8 L1911.3,496.0 L1913.3,496.2 L1915.3,496.5 L1917.3,496.7 L1919.3,496.9 L1921.3,497.2 L1923.3,497.4 L1925.3,497.6 L1927.3,497.8 L1929.3,498.1 L1931.3,498.3 L1933.3,498.5 L1935.3,498.7 L1937.4,499.0 L1939.4,499.2 L1941.4,499.4 L1943.4,499.6 L1945.4,499.8 L1947.4,500.0 L1949.4,500.3 L1951.4,500.5 L1953.4,500.7 L1955.4,500.9 L1957.4,501.1 L1959.4,501.3 L1959.4,547.0 L1957.4,546.7 L1955.4,546.4 L1953.4,546.1 L1951.4,545.8 L1949.4,545.5 L1947.4,545.2 L1945.4,544.9 L1943.4,544.6 L1941.4,544.3 L1939.4,544.0 L1937.4,543.7 L1935.3,543.3 L1933.3,543.0 L1931.3,542.7 L1929.3,542.4 L1927.3,542.0 L1925.3,541.7 L1923.3,541.4 L1921.3,541.0 L1919.3,540.7 L1917.3,540.4 L1915.3,540.0 L1913.3,539.7 L1911.3,539.3 L1909.3,538.9 L1907.3,538.6 L1905.3,538.2 L1903.3,537.9 L1901.3,537.5 L1899.3,537.1 L1897.3,536.7 L1895.3,536.4 L1893.3,536.0 L1891.2,535.6 L1889.2,535.2 L1887.2,534.8 L1885.2,534.4 L1883.2,534.0 L1881.2,533.6 L1879.2,533.2 L1877.2,532.8 L1875.2,532.4 L1873.2,532.0 L1871.2,531.5 L1869.2,531.1 L1867.2,530.7 L1865.2,530.3 L1863.2,529.8 L1861.2,529.4 L1859.2,528.9 L1857.2,528.5 L1855.2,528.0 L1853.2,527.6 L1851.2,527.1 L1849.2,526.6 L1847.1,526.2 L1845.1,525.7 L1843.1,525.2 L1841.1,524.7 L1839.1,524.2 L1837.1,523.7 L1835.1,523.2 L1833.1,522.7 L1831.1,522.2 L1829.1,521.7 L1827.1,521.2 L1825.1,520.7 L1823.1,520.2 L1821.1,519.7 L1819.1,519.1 L1817.1,518.6 L1815.1,518.0 L1813.1,517.5 L1811.1,517.0 L1809.1,516.4 L1807.1,515.9 L1805.1,515.3 L1803.1,514.7 L1801.0,514.2 L1799.0,513.6 L1797.0,513.0 L1795.0,512.4 L1793.0,511.9 L1791.0,511.3 L1789.0,510.7 L1787.0,510.1 L1785.0,509.5 L1783.0,508.9 L1781.0,508.3 L1779.0,507.7 L1777.0,507.1 L1775.0,506.4 L1773.0,505.8 L1771.0,505.2 L1769.0,504.6 L1767.0,503.9 L1765.0,503.3 L1763.0,502.7 L1761.0,502.0 L1759.0,501.4 L1756.9,500.7 L1754.9,500.1 L1752.9,499.4 L1750.9,498.8 L1748.9,498.1 L1746.9,497.5 L1744.9,496.8 L1742.9,496.1 L1740.9,495.4 L1738.9,494.8 L1736.9,494.1 L1734.9,493.4 L1732.9,492.7 L1730.9,492.0 L1728.9,491.3 L1726.9,490.6 L1724.9,489.9 L1722.9,489.1 L1720.9,488.4 L1718.9,487.7 L1716.9,486.9 L1714.9,486.2 L1712.9,485.4 L1710.8,484.7 L1708.8,483.9 L1706.8,483.1 L1704.8,482.4 L1702.8,481.6 L1700.8,480.8 L1698.8,480.0 L1696.8,479.2 L1694.8,478.3 L1692.8,477.5 L1690.8,476.6 L1688.8,475.8 L1686.8,474.9 L1684.8,474.0 L1682.8,473.1 L1680.8,472.2 L1678.8,471.2 L1676.8,470.3 L1674.8,469.3 L1672.8,468.3 L1670.8,467.3 L1668.8,466.2 L1666.7,465.2 L1664.7,464.1 L1662.7,463.0 L1660.7,461.9 L1658.7,460.7 L1656.7,459.5 L1654.7,458.3 L1652.7,457.1 L1650.7,455.8 L1648.7,454.5 L1646.7,453.2 L1644.7,451.9 L1642.7,450.5 L1640.7,449.0 L1638.7,447.6 L1636.7,446.1 L1634.7,444.5 L1632.7,443.0 L1630.7,441.4 L1628.7,439.7 L1626.7,438.0 L1624.7,436.3 L1622.6,434.5 L1620.6,432.7 L1618.6,430.9 L1616.6,429.0 L1614.6,427.1 L1612.6,425.2 L1610.6,423.2 L1608.6,421.2 L1606.6,419.1 L1604.6,417.0 L1602.6,414.9 L1600.6,408.1 L1598.6,406.1 L1596.6,404.1 L1594.5,402.1 L1592.5,400.0 L1590.5,398.0 L1588.5,395.9 L1586.5,393.9 L1584.5,391.8 L1582.4,389.7 L1580.4,387.6 L1578.4,385.5 L1576.4,383.4 L1574.4,381.3 L1572.4,379.2 L1570.3,377.2 L1568.3,375.1 L1566.3,373.0 L1564.3,371.0 L1562.3,369.0 L1560.3,367.0 L1558.2,365.0 L1556.2,363.0 L1554.2,361.1 L1552.2,359.2 L1550.2,357.3 L1548.2,355.4 L1546.1,353.5 L1544.1,351.6 L1542.1,349.8 L1540.1,347.9 L1538.1,346.1 L1536.1,344.3 L1534.0,342.5 L1532.0,340.7 L1530.0,338.9 L1528.0,337.1 L1526.0,335.3 L1524.0,333.5 L1521.9,331.7 L1519.9,329.9 L1517.9,328.1 L1515.9,326.4 L1513.9,324.6 L1511.9,322.8 L1509.8,321.0 L1507.8,319.2 L1505.8,317.4 L1503.8,315.6 L1501.8,313.9 L1499.8,312.1 L1497.7,310.3 L1495.7,308.5 L1493.7,306.7 L1491.7,304.9 L1489.7,303.1 L1487.7,301.3 L1485.6,299.5 L1483.6,297.7 L1481.6,295.9 Z" fill="#e4e4e4"/>
<line x1="1431.7" y1="410.4" x2="2002.7" y2="410.4" stroke="#cdcdcd" stroke-width="1.3" stroke-dasharray="4.8 4.92"/>
<path d="M1481.6,228.6 L1483.6,232.0 L1485.6,235.4 L1487.7,238.8 L1489.7,242.2 L1491.7,245.6 L1493.7,248.9 L1495.7,252.3 L1497.7,255.6 L1499.8,259.0 L1501.8,262.4 L1503.8,265.8 L1505.8,269.2 L1507.8,272.7 L1509.8,276.1 L1511.9,279.6 L1513.9,283.1 L1515.9,286.6 L1517.9,290.1 L1519.9,293.7 L1521.9,297.2 L1524.0,300.7 L1526.0,304.2 L1528.0,307.7 L1530.0,311.2 L1532.0,314.6 L1534.0,318.0 L1536.1,321.3 L1538.1,324.6 L1540.1,327.9 L1542.1,331.1 L1544.1,334.3 L1546.1,337.4 L1548.2,340.5 L1550.2,343.5 L1552.2,346.6 L1554.2,349.5 L1556.2,352.5 L1558.2,355.3 L1560.3,358.2 L1562.3,361.0 L1564.3,363.8 L1566.3,366.6 L1568.3,369.3 L1570.3,372.0 L1572.4,374.7 L1574.4,377.4 L1576.4,380.0 L1578.4,382.7 L1580.4,385.3 L1582.4,387.9 L1584.5,390.5 L1586.5,393.0 L1588.5,395.6 L1590.5,398.1 L1592.5,400.6 L1594.5,403.1 L1596.6,405.6 L1598.6,408.0 L1600.6,410.4 L1602.6,414.3 L1604.6,416.2 L1606.6,418.0 L1608.6,419.8 L1610.7,421.6 L1612.7,423.4 L1614.7,425.1 L1616.7,426.8 L1618.7,428.5 L1620.7,430.1 L1622.7,431.7 L1624.7,433.3 L1626.7,434.8 L1628.7,436.3 L1630.8,437.8 L1632.8,439.2 L1634.8,440.6 L1636.8,442.0 L1638.8,443.3 L1640.8,444.6 L1642.8,445.9 L1644.8,447.1 L1646.8,448.3 L1648.9,449.5 L1650.9,450.6 L1652.9,451.7 L1654.9,452.8 L1656.9,453.8 L1658.9,454.9 L1660.9,455.9 L1662.9,456.8 L1664.9,457.8 L1667.0,458.7 L1669.0,459.7 L1671.0,460.5 L1673.0,461.4 L1675.0,462.3 L1677.0,463.1 L1679.0,463.9 L1681.0,464.7 L1683.0,465.5 L1685.0,466.3 L1687.1,467.1 L1689.1,467.8 L1691.1,468.6 L1693.1,469.3 L1695.1,470.0 L1697.1,470.8 L1699.1,471.5 L1701.1,472.2 L1703.1,472.9 L1705.2,473.5 L1707.2,474.2 L1709.2,474.9 L1711.2,475.5 L1713.2,476.2 L1715.2,476.8 L1717.2,477.5 L1719.2,478.1 L1721.2,478.8 L1723.3,479.4 L1725.3,480.0 L1727.3,480.6 L1729.3,481.2 L1731.3,481.9 L1733.3,482.5 L1735.3,483.1 L1737.3,483.7 L1739.3,484.3 L1741.3,484.8 L1743.4,485.4 L1745.4,486.0 L1747.4,486.6 L1749.4,487.1 L1751.4,487.7 L1753.4,488.3 L1755.4,488.8 L1757.4,489.4 L1759.4,489.9 L1761.5,490.5 L1763.5,491.0 L1765.5,491.6 L1767.5,492.1 L1769.5,492.6 L1771.5,493.2 L1773.5,493.7 L1775.5,494.2 L1777.5,494.7 L1779.5,495.2 L1781.6,495.7 L1783.6,496.2 L1785.6,496.7 L1787.6,497.2 L1789.6,497.7 L1791.6,498.2 L1793.6,498.7 L1795.6,499.1 L1797.6,499.6 L1799.7,500.1 L1801.7,500.5 L1803.7,501.0 L1805.7,501.5 L1807.7,501.9 L1809.7,502.4 L1811.7,502.8 L1813.7,503.3 L1815.7,503.7 L1817.8,504.2 L1819.8,504.6 L1821.8,505.0 L1823.8,505.5 L1825.8,505.9 L1827.8,506.3 L1829.8,506.7 L1831.8,507.2 L1833.8,507.6 L1835.8,508.0 L1837.9,508.4 L1839.9,508.8 L1841.9,509.2 L1843.9,509.6 L1845.9,510.0 L1847.9,510.4 L1849.9,510.8 L1851.9,511.2 L1853.9,511.6 L1856.0,512.0 L1858.0,512.4 L1860.0,512.8 L1862.0,513.2 L1864.0,513.6 L1866.0,514.0 L1868.0,514.4 L1870.0,514.8 L1872.0,515.1 L1874.1,515.5 L1876.1,515.9 L1878.1,516.3 L1880.1,516.6 L1882.1,517.0 L1884.1,517.4 L1886.1,517.7 L1888.1,518.1 L1890.1,518.4 L1892.1,518.8 L1894.2,519.2 L1896.2,519.5 L1898.2,519.9 L1900.2,520.2 L1902.2,520.5 L1904.2,520.9 L1906.2,521.2 L1908.2,521.6 L1910.2,521.9 L1912.3,522.2 L1914.3,522.6 L1916.3,522.9 L1918.3,523.2 L1920.3,523.5 L1922.3,523.9 L1924.3,524.2 L1926.3,524.5 L1928.3,524.8 L1930.4,525.1 L1932.4,525.4 L1934.4,525.7 L1936.4,526.0 L1938.4,526.3 L1940.4,526.6 L1942.4,526.9 L1944.4,527.2 L1946.4,527.5 L1948.4,527.8 L1950.5,528.1 L1952.5,528.4 L1954.5,528.7 L1956.5,529.0 L1958.5,529.3" fill="none" stroke="#6a6a6a" stroke-width="3" stroke-linejoin="round"/>
<line x1="1430.6" y1="5.0" x2="1430.6" y2="698.8" stroke="#000" stroke-width="3"/>
<line x1="1429.1" y1="697.3" x2="2002.7" y2="697.3" stroke="#000" stroke-width="3"/>
<line x1="1418.1" y1="665.8" x2="1429.6" y2="665.8" stroke="#333" stroke-width="2.4"/>
<text transform="translate(1414.8,671.8) scale(1.07,1)" font-size="17.0" text-anchor="end" fill="#1a1a1a">−0.5</text>
<line x1="1418.1" y1="580.6" x2="1429.6" y2="580.6" stroke="#333" stroke-width="2.4"/>
<text transform="translate(1414.8,586.6) scale(1.07,1)" font-size="17.0" text-anchor="end" fill="#1a1a1a">0.0</text>
<line x1="1418.1" y1="495.4" x2="1429.6" y2="495.4" stroke="#333" stroke-width="2.4"/>
<text transform="translate(1414.8,501.4) scale(1.07,1)" font-size="17.0" text-anchor="end" fill="#1a1a1a">0.5</text>
<line x1="1418.1" y1="410.2" x2="1429.6" y2="410.2" stroke="#333" stroke-width="2.4"/>
<text transform="translate(1414.8,416.2) scale(1.07,1)" font-size="17.0" text-anchor="end" fill="#1a1a1a">1.0</text>
<line x1="1418.1" y1="325.0" x2="1429.6" y2="325.0" stroke="#333" stroke-width="2.4"/>
<text transform="translate(1414.8,331.0) scale(1.07,1)" font-size="17.0" text-anchor="end" fill="#1a1a1a">1.5</text>
<line x1="1418.1" y1="239.8" x2="1429.6" y2="239.8" stroke="#333" stroke-width="2.4"/>
<text transform="translate(1414.8,245.8) scale(1.07,1)" font-size="17.0" text-anchor="end" fill="#1a1a1a">2.0</text>
<line x1="1418.1" y1="154.6" x2="1429.6" y2="154.6" stroke="#333" stroke-width="2.4"/>
<text transform="translate(1414.8,160.6) scale(1.07,1)" font-size="17.0" text-anchor="end" fill="#1a1a1a">2.5</text>
<line x1="1418.1" y1="69.4" x2="1429.6" y2="69.4" stroke="#333" stroke-width="2.4"/>
<text transform="translate(1414.8,75.4) scale(1.07,1)" font-size="17.0" text-anchor="end" fill="#1a1a1a">3.0</text>
<line x1="1456.7" y1="698.3" x2="1456.7" y2="709.8" stroke="#333" stroke-width="2.8"/>
<text transform="translate(1456.3,724.2) scale(1.07,1)" font-size="17.0" text-anchor="middle" fill="#1a1a1a">10</text>
<line x1="1528.7" y1="698.3" x2="1528.7" y2="709.8" stroke="#333" stroke-width="2.8"/>
<text transform="translate(1528.3,724.2) scale(1.07,1)" font-size="17.0" text-anchor="middle" fill="#1a1a1a">30</text>
<line x1="1600.2" y1="698.3" x2="1600.2" y2="709.8" stroke="#333" stroke-width="2.8"/>
<text transform="translate(1599.8,724.2) scale(1.07,1)" font-size="17.0" text-anchor="middle" fill="#1a1a1a">50</text>
<line x1="1671.6" y1="698.3" x2="1671.6" y2="709.8" stroke="#333" stroke-width="2.8"/>
<text transform="translate(1671.2,724.2) scale(1.07,1)" font-size="17.0" text-anchor="middle" fill="#1a1a1a">70</text>
<line x1="1743.7" y1="698.3" x2="1743.7" y2="709.8" stroke="#333" stroke-width="2.8"/>
<text transform="translate(1743.3,724.2) scale(1.07,1)" font-size="17.0" text-anchor="middle" fill="#1a1a1a">90</text>
<line x1="1815.7" y1="698.3" x2="1815.7" y2="709.8" stroke="#333" stroke-width="2.8"/>
<text transform="translate(1815.3,724.2) scale(1.07,1)" font-size="17.0" text-anchor="middle" fill="#1a1a1a">110</text>
<line x1="1887.7" y1="698.3" x2="1887.7" y2="709.8" stroke="#333" stroke-width="2.8"/>
<text transform="translate(1887.3,724.2) scale(1.07,1)" font-size="17.0" text-anchor="middle" fill="#1a1a1a">130</text>
<line x1="1959.2" y1="698.3" x2="1959.2" y2="709.8" stroke="#333" stroke-width="2.8"/>
<text transform="translate(1958.8,724.2) scale(1.07,1)" font-size="17.0" text-anchor="middle" fill="#1a1a1a">150</text>
<text x="1455.2" y="37.5" font-size="32.4" fill="#000">Phenotypic Age Acceleration</text>
<text x="1716.7" y="758.6" font-size="28.6" text-anchor="middle" fill="#000">High−density Cholesterol(mg/dL)</text>
<text transform="translate(1378.9,351.9) rotate(-90) scale(1,1.07)" font-size="28.3" text-anchor="middle" fill="#000">Odds Ratio (95% CI)</text>
<text x="1455.7" y="572.5" font-size="22.7" fill="#000">P−overall = &lt;.0001</text>
<text x="1455.7" y="605.1" font-size="22.7" fill="#000">P−non−linear = 0.0013</text>
<path d="M137.5,1344.4 L139.5,1344.1 L141.6,1343.8 L143.6,1343.4 L145.6,1343.1 L147.7,1342.8 L149.7,1342.4 L151.7,1342.1 L153.8,1341.8 L155.8,1341.4 L157.8,1341.1 L159.9,1340.7 L161.9,1340.4 L164.0,1340.0 L166.0,1339.6 L168.0,1339.3 L170.1,1338.9 L172.1,1338.5 L174.1,1338.1 L176.2,1337.7 L178.2,1337.3 L180.2,1336.9 L182.3,1336.5 L184.3,1336.0 L186.3,1335.6 L188.4,1335.2 L190.4,1334.7 L192.4,1334.2 L194.5,1333.8 L196.5,1333.3 L198.5,1332.8 L200.6,1332.3 L202.6,1331.8 L204.6,1331.3 L206.7,1330.8 L208.7,1330.2 L210.8,1329.7 L212.8,1329.2 L214.8,1328.6 L216.9,1328.0 L218.9,1327.5 L220.9,1326.9 L223.0,1326.3 L225.0,1325.7 L227.0,1325.1 L229.1,1324.5 L231.1,1323.9 L233.1,1318.8 L235.1,1317.7 L237.1,1316.5 L239.1,1315.3 L241.1,1314.1 L243.2,1312.9 L245.2,1311.7 L247.2,1310.5 L249.2,1309.3 L251.2,1308.1 L253.2,1306.9 L255.2,1305.6 L257.2,1304.4 L259.2,1303.2 L261.2,1302.0 L263.2,1300.7 L265.3,1299.5 L267.3,1298.3 L269.3,1297.1 L271.3,1295.9 L273.3,1294.7 L275.3,1293.5 L277.3,1292.3 L279.3,1291.1 L281.3,1289.9 L283.3,1288.8 L285.4,1287.6 L287.4,1286.5 L289.4,1285.3 L291.4,1284.2 L293.4,1283.1 L295.4,1282.0 L297.4,1280.9 L299.4,1279.8 L301.4,1278.7 L303.4,1277.6 L305.4,1276.5 L307.5,1275.5 L309.5,1274.4 L311.5,1273.3 L313.5,1272.3 L315.5,1271.2 L317.5,1270.1 L319.5,1269.1 L321.5,1268.0 L323.5,1266.9 L325.5,1265.9 L327.5,1264.8 L329.6,1263.7 L331.6,1262.6 L333.6,1261.5 L335.6,1260.4 L337.6,1259.3 L339.6,1258.2 L341.6,1257.1 L343.6,1256.0 L345.6,1254.9 L347.6,1253.7 L349.7,1252.6 L351.7,1251.4 L353.7,1250.2 L355.7,1249.1 L357.7,1247.9 L359.7,1246.7 L361.7,1245.5 L363.7,1244.2 L365.7,1243.0 L367.7,1241.8 L369.7,1240.5 L371.8,1239.2 L373.8,1238.0 L375.8,1236.7 L377.8,1235.4 L379.8,1234.0 L381.8,1232.7 L383.8,1231.3 L385.8,1230.0 L387.8,1228.6 L389.8,1227.2 L391.8,1225.8 L393.9,1224.3 L395.9,1222.9 L397.9,1221.4 L399.9,1219.9 L401.9,1218.4 L403.9,1216.9 L405.9,1215.3 L407.9,1213.7 L409.9,1212.1 L411.9,1210.5 L413.9,1208.8 L416.0,1207.1 L418.0,1205.4 L420.0,1203.7 L422.0,1201.9 L424.0,1200.1 L426.0,1198.3 L428.0,1196.5 L430.0,1194.6 L432.0,1192.7 L434.0,1190.8 L436.1,1188.8 L438.1,1186.8 L440.1,1184.8 L442.1,1182.7 L444.1,1180.7 L446.1,1178.6 L448.1,1176.5 L450.1,1174.3 L452.1,1172.2 L454.1,1170.0 L456.1,1167.7 L458.2,1165.5 L460.2,1163.3 L462.2,1161.0 L464.2,1158.7 L466.2,1156.4 L468.2,1154.1 L470.2,1151.8 L472.2,1149.4 L474.2,1147.1 L476.2,1144.8 L478.2,1142.4 L480.3,1140.1 L482.3,1137.7 L484.3,1135.3 L486.3,1132.9 L488.3,1130.5 L490.3,1128.1 L492.3,1125.7 L494.3,1123.3 L496.3,1120.8 L498.3,1118.4 L500.4,1115.9 L502.4,1113.4 L504.4,1110.9 L506.4,1108.4 L508.4,1105.9 L510.4,1103.3 L512.4,1100.8 L514.4,1098.2 L516.4,1095.6 L518.4,1093.0 L520.4,1090.3 L522.5,1087.6 L524.5,1084.9 L526.5,1082.2 L528.5,1079.5 L530.5,1076.7 L532.5,1073.9 L534.5,1071.1 L536.5,1068.3 L538.5,1065.4 L540.5,1062.5 L542.5,1059.6 L544.6,1056.7 L546.6,1053.7 L548.6,1050.7 L550.6,1047.6 L552.6,1044.5 L554.6,1041.4 L556.6,1038.3 L558.6,1035.1 L560.6,1031.8 L562.6,1028.6 L564.7,1025.3 L566.7,1022.0 L568.7,1018.7 L570.7,1015.3 L572.7,1012.0 L574.7,1008.7 L576.7,1005.3 L578.7,1002.0 L580.7,998.6 L582.7,995.3 L584.7,992.0 L586.8,988.6 L588.8,985.3 L590.8,981.9 L592.8,978.6 L594.8,975.2 L596.8,971.8 L596.8,1190.2 L594.8,1191.1 L592.8,1192.0 L590.8,1192.9 L588.8,1193.8 L586.8,1194.6 L584.7,1195.5 L582.7,1196.4 L580.7,1197.2 L578.7,1198.1 L576.7,1199.0 L574.7,1199.8 L572.7,1200.6 L570.7,1201.5 L568.7,1202.3 L566.7,1203.1 L564.7,1203.9 L562.6,1204.7 L560.6,1205.5 L558.6,1206.3 L556.6,1207.1 L554.6,1207.9 L552.6,1208.6 L550.6,1209.4 L548.6,1210.1 L546.6,1210.9 L544.6,1211.6 L542.5,1212.3 L540.5,1213.0 L538.5,1213.8 L536.5,1214.5 L534.5,1215.2 L532.5,1215.8 L530.5,1216.5 L528.5,1217.2 L526.5,1217.9 L524.5,1218.6 L522.5,1219.2 L520.4,1219.9 L518.4,1220.6 L516.4,1221.2 L514.4,1221.9 L512.4,1222.5 L510.4,1223.2 L508.4,1223.8 L506.4,1224.5 L504.4,1225.1 L502.4,1225.7 L500.4,1226.4 L498.3,1227.0 L496.3,1227.7 L494.3,1228.3 L492.3,1228.9 L490.3,1229.6 L488.3,1230.2 L486.3,1230.9 L484.3,1231.5 L482.3,1232.2 L480.3,1232.9 L478.2,1233.5 L476.2,1234.2 L474.2,1234.8 L472.2,1235.5 L470.2,1236.2 L468.2,1236.8 L466.2,1237.5 L464.2,1238.1 L462.2,1238.8 L460.2,1239.5 L458.2,1240.2 L456.1,1240.8 L454.1,1241.5 L452.1,1242.2 L450.1,1242.8 L448.1,1243.5 L446.1,1244.2 L444.1,1244.8 L442.1,1245.5 L440.1,1246.2 L438.1,1246.9 L436.1,1247.5 L434.0,1248.2 L432.0,1248.9 L430.0,1249.5 L428.0,1250.2 L426.0,1250.9 L424.0,1251.5 L422.0,1252.2 L420.0,1252.9 L418.0,1253.5 L416.0,1254.2 L413.9,1254.9 L411.9,1255.5 L409.9,1256.2 L407.9,1256.9 L405.9,1257.5 L403.9,1258.2 L401.9,1258.8 L399.9,1259.5 L397.9,1260.1 L395.9,1260.8 L393.9,1261.5 L391.8,1262.1 L389.8,1262.8 L387.8,1263.4 L385.8,1264.1 L383.8,1264.8 L381.8,1265.4 L379.8,1266.1 L377.8,1266.8 L375.8,1267.4 L373.8,1268.1 L371.8,1268.8 L369.7,1269.4 L367.7,1270.1 L365.7,1270.8 L363.7,1271.5 L361.7,1272.2 L359.7,1272.8 L357.7,1273.5 L355.7,1274.2 L353.7,1274.9 L351.7,1275.6 L349.7,1276.3 L347.6,1277.0 L345.6,1277.7 L343.6,1278.4 L341.6,1279.1 L339.6,1279.8 L337.6,1280.5 L335.6,1281.2 L333.6,1282.0 L331.6,1282.7 L329.6,1283.4 L327.5,1284.1 L325.5,1284.9 L323.5,1285.6 L321.5,1286.4 L319.5,1287.1 L317.5,1287.8 L315.5,1288.6 L313.5,1289.3 L311.5,1290.1 L309.5,1290.9 L307.5,1291.6 L305.4,1292.4 L303.4,1293.2 L301.4,1293.9 L299.4,1294.7 L297.4,1295.5 L295.4,1296.3 L293.4,1297.1 L291.4,1297.9 L289.4,1298.7 L287.4,1299.5 L285.4,1300.3 L283.3,1301.1 L281.3,1301.9 L279.3,1302.7 L277.3,1303.5 L275.3,1304.4 L273.3,1305.2 L271.3,1306.0 L269.3,1306.8 L267.3,1307.6 L265.3,1308.5 L263.2,1309.3 L261.2,1310.1 L259.2,1311.0 L257.2,1311.8 L255.2,1312.6 L253.2,1313.4 L251.2,1314.2 L249.2,1315.0 L247.2,1315.9 L245.2,1316.7 L243.2,1317.5 L241.1,1318.3 L239.1,1319.0 L237.1,1319.8 L235.1,1320.6 L233.1,1321.4 L231.1,1323.7 L229.1,1324.9 L227.0,1326.0 L225.0,1327.2 L223.0,1328.3 L220.9,1329.4 L218.9,1330.5 L216.9,1331.6 L214.8,1332.7 L212.8,1333.7 L210.8,1334.8 L208.7,1335.8 L206.7,1336.8 L204.6,1337.9 L202.6,1338.9 L200.6,1339.8 L198.5,1340.8 L196.5,1341.8 L194.5,1342.7 L192.4,1343.7 L190.4,1344.6 L188.4,1345.5 L186.3,1346.4 L184.3,1347.3 L182.3,1348.2 L180.2,1349.1 L178.2,1350.0 L176.2,1350.8 L174.1,1351.7 L172.1,1352.5 L170.1,1353.3 L168.0,1354.2 L166.0,1355.0 L164.0,1355.8 L161.9,1356.6 L159.9,1357.3 L157.8,1358.1 L155.8,1358.9 L153.8,1359.6 L151.7,1360.4 L149.7,1361.1 L147.7,1361.8 L145.6,1362.6 L143.6,1363.3 L141.6,1364.0 L139.5,1364.7 L137.5,1365.3 Z" fill="#e4e4e4"/>
<line x1="88.6" y1="1322.9" x2="648.5" y2="1322.9" stroke="#cdcdcd" stroke-width="1.3" stroke-dasharray="4.8 4.92"/>
<path d="M137.5,1355.1 L139.5,1354.5 L141.6,1354.0 L143.6,1353.5 L145.6,1353.0 L147.7,1352.4 L149.7,1351.9 L151.7,1351.4 L153.8,1350.8 L155.8,1350.3 L157.8,1349.7 L159.9,1349.1 L161.9,1348.6 L164.0,1348.0 L166.0,1347.4 L168.0,1346.8 L170.1,1346.2 L172.1,1345.6 L174.1,1345.0 L176.2,1344.4 L178.2,1343.8 L180.2,1343.1 L182.3,1342.5 L184.3,1341.8 L186.3,1341.1 L188.4,1340.5 L190.4,1339.8 L192.4,1339.1 L194.5,1338.4 L196.5,1337.7 L198.5,1336.9 L200.6,1336.2 L202.6,1335.4 L204.6,1334.7 L206.7,1333.9 L208.7,1333.1 L210.8,1332.3 L212.8,1331.5 L214.8,1330.7 L216.9,1329.8 L218.9,1329.0 L220.9,1328.1 L223.0,1327.3 L225.0,1326.4 L227.0,1325.5 L229.1,1324.6 L231.1,1323.7 L233.1,1320.3 L235.1,1319.3 L237.1,1318.4 L239.1,1317.4 L241.1,1316.4 L243.1,1315.4 L245.1,1314.4 L247.1,1313.3 L249.1,1312.3 L251.1,1311.3 L253.1,1310.3 L255.1,1309.2 L257.1,1308.2 L259.1,1307.2 L261.1,1306.1 L263.1,1305.1 L265.1,1304.0 L267.1,1303.0 L269.1,1301.9 L271.1,1300.9 L273.1,1299.9 L275.1,1298.8 L277.1,1297.8 L279.1,1296.8 L281.1,1295.8 L283.1,1294.8 L285.1,1293.8 L287.1,1292.8 L289.1,1291.8 L291.1,1290.8 L293.1,1289.8 L295.1,1288.8 L297.1,1287.8 L299.1,1286.9 L301.1,1285.9 L303.1,1285.0 L305.1,1284.0 L307.1,1283.1 L309.1,1282.2 L311.1,1281.2 L313.1,1280.3 L315.1,1279.4 L317.1,1278.5 L319.1,1277.6 L321.1,1276.7 L323.2,1275.8 L325.2,1274.9 L327.2,1273.9 L329.2,1273.0 L331.2,1272.1 L333.2,1271.2 L335.2,1270.3 L337.2,1269.4 L339.2,1268.5 L341.2,1267.5 L343.2,1266.6 L345.2,1265.7 L347.2,1264.7 L349.2,1263.8 L351.2,1262.8 L353.2,1261.9 L355.2,1260.9 L357.2,1259.9 L359.2,1258.9 L361.2,1257.9 L363.2,1256.9 L365.2,1255.9 L367.2,1254.9 L369.2,1253.9 L371.2,1252.9 L373.2,1251.8 L375.2,1250.8 L377.2,1249.8 L379.2,1248.7 L381.2,1247.6 L383.2,1246.6 L385.2,1245.5 L387.2,1244.4 L389.2,1243.3 L391.2,1242.2 L393.2,1241.2 L395.2,1240.1 L397.2,1238.9 L399.2,1237.8 L401.2,1236.7 L403.2,1235.6 L405.2,1234.5 L407.2,1233.3 L409.2,1232.2 L411.2,1231.1 L413.2,1229.9 L415.2,1228.8 L417.2,1227.6 L419.2,1226.5 L421.2,1225.3 L423.2,1224.1 L425.2,1223.0 L427.2,1221.8 L429.2,1220.6 L431.2,1219.4 L433.2,1218.3 L435.2,1217.1 L437.2,1215.9 L439.2,1214.7 L441.2,1213.5 L443.2,1212.3 L445.2,1211.1 L447.2,1209.9 L449.2,1208.6 L451.2,1207.4 L453.2,1206.2 L455.2,1205.0 L457.2,1203.7 L459.2,1202.5 L461.2,1201.3 L463.2,1200.0 L465.2,1198.8 L467.2,1197.5 L469.2,1196.3 L471.2,1195.0 L473.2,1193.8 L475.2,1192.5 L477.2,1191.3 L479.2,1190.0 L481.2,1188.7 L483.2,1187.5 L485.2,1186.2 L487.2,1184.9 L489.2,1183.6 L491.2,1182.3 L493.2,1181.0 L495.2,1179.7 L497.2,1178.4 L499.2,1177.1 L501.2,1175.7 L503.2,1174.4 L505.2,1173.1 L507.3,1171.7 L509.3,1170.3 L511.3,1168.9 L513.3,1167.5 L515.3,1166.1 L517.3,1164.7 L519.3,1163.2 L521.3,1161.7 L523.3,1160.3 L525.3,1158.8 L527.3,1157.2 L529.3,1155.7 L531.3,1154.2 L533.3,1152.6 L535.3,1151.0 L537.3,1149.4 L539.3,1147.8 L541.3,1146.2 L543.3,1144.6 L545.3,1143.0 L547.3,1141.3 L549.3,1139.7 L551.3,1138.0 L553.3,1136.4 L555.3,1134.7 L557.3,1133.0 L559.3,1131.4 L561.3,1129.7 L563.3,1128.0 L565.3,1126.3 L567.3,1124.6 L569.3,1123.0 L571.3,1121.3 L573.3,1119.6 L575.3,1117.9 L577.3,1116.3 L579.3,1114.6 L581.3,1112.9 L583.3,1111.2 L585.3,1109.6 L587.3,1107.9 L589.3,1106.2 L591.3,1104.5 L593.3,1102.8 L595.3,1101.1 L597.3,1099.5" fill="none" stroke="#6a6a6a" stroke-width="3" stroke-linejoin="round"/>
<line x1="87.5" y1="807.6" x2="87.5" y2="1501.4" stroke="#000" stroke-width="3"/>
<line x1="86.0" y1="1499.9" x2="648.5" y2="1499.9" stroke="#000" stroke-width="3"/>
<line x1="75.0" y1="1469.1" x2="86.5" y2="1469.1" stroke="#333" stroke-width="2.4"/>
<text transform="translate(71.7,1475.1) scale(1.07,1)" font-size="17.0" text-anchor="end" fill="#1a1a1a">−0.5</text>
<line x1="75.0" y1="1420.6" x2="86.5" y2="1420.6" stroke="#333" stroke-width="2.4"/>
<text transform="translate(71.7,1426.6) scale(1.07,1)" font-size="17.0" text-anchor="end" fill="#1a1a1a">0.0</text>
<line x1="75.0" y1="1372.1" x2="86.5" y2="1372.1" stroke="#333" stroke-width="2.4"/>
<text transform="translate(71.7,1378.1) scale(1.07,1)" font-size="17.0" text-anchor="end" fill="#1a1a1a">0.5</text>
<line x1="75.0" y1="1323.6" x2="86.5" y2="1323.6" stroke="#333" stroke-width="2.4"/>
<text transform="translate(71.7,1329.6) scale(1.07,1)" font-size="17.0" text-anchor="end" fill="#1a1a1a">1.0</text>
<line x1="75.0" y1="1275.1" x2="86.5" y2="1275.1" stroke="#333" stroke-width="2.4"/>
<text transform="translate(71.7,1281.1) scale(1.07,1)" font-size="17.0" text-anchor="end" fill="#1a1a1a">1.5</text>
<line x1="75.0" y1="1226.6" x2="86.5" y2="1226.6" stroke="#333" stroke-width="2.4"/>
<text transform="translate(71.7,1232.6) scale(1.07,1)" font-size="17.0" text-anchor="end" fill="#1a1a1a">2.0</text>
<line x1="75.0" y1="1178.1" x2="86.5" y2="1178.1" stroke="#333" stroke-width="2.4"/>
<text transform="translate(71.7,1184.1) scale(1.07,1)" font-size="17.0" text-anchor="end" fill="#1a1a1a">2.5</text>
<line x1="75.0" y1="1129.6" x2="86.5" y2="1129.6" stroke="#333" stroke-width="2.4"/>
<text transform="translate(71.7,1135.6) scale(1.07,1)" font-size="17.0" text-anchor="end" fill="#1a1a1a">3.0</text>
<line x1="75.0" y1="1081.1" x2="86.5" y2="1081.1" stroke="#333" stroke-width="2.4"/>
<text transform="translate(71.7,1087.1) scale(1.07,1)" font-size="17.0" text-anchor="end" fill="#1a1a1a">3.5</text>
<line x1="75.0" y1="1032.6" x2="86.5" y2="1032.6" stroke="#333" stroke-width="2.4"/>
<text transform="translate(71.7,1038.6) scale(1.07,1)" font-size="17.0" text-anchor="end" fill="#1a1a1a">4.0</text>
<line x1="75.0" y1="984.1" x2="86.5" y2="984.1" stroke="#333" stroke-width="2.4"/>
<text transform="translate(71.7,990.1) scale(1.07,1)" font-size="17.0" text-anchor="end" fill="#1a1a1a">4.5</text>
<line x1="75.0" y1="935.6" x2="86.5" y2="935.6" stroke="#333" stroke-width="2.4"/>
<text transform="translate(71.7,941.6) scale(1.07,1)" font-size="17.0" text-anchor="end" fill="#1a1a1a">5.0</text>
<line x1="75.0" y1="887.1" x2="86.5" y2="887.1" stroke="#333" stroke-width="2.4"/>
<text transform="translate(71.7,893.1) scale(1.07,1)" font-size="17.0" text-anchor="end" fill="#1a1a1a">5.5</text>
<line x1="75.0" y1="838.6" x2="86.5" y2="838.6" stroke="#333" stroke-width="2.4"/>
<text transform="translate(71.7,844.6) scale(1.07,1)" font-size="17.0" text-anchor="end" fill="#1a1a1a">6.0</text>
<line x1="113.0" y1="1500.9" x2="113.0" y2="1512.4" stroke="#333" stroke-width="2.8"/>
<text transform="translate(112.6,1526.8) scale(1.07,1)" font-size="17.0" text-anchor="middle" fill="#1a1a1a">0.0</text>
<line x1="226.8" y1="1500.9" x2="226.8" y2="1512.4" stroke="#333" stroke-width="2.8"/>
<text transform="translate(226.4,1526.8) scale(1.07,1)" font-size="17.0" text-anchor="middle" fill="#1a1a1a">0.1</text>
<line x1="340.4" y1="1500.9" x2="340.4" y2="1512.4" stroke="#333" stroke-width="2.8"/>
<text transform="translate(340.0,1526.8) scale(1.07,1)" font-size="17.0" text-anchor="middle" fill="#1a1a1a">0.2</text>
<line x1="453.9" y1="1500.9" x2="453.9" y2="1512.4" stroke="#333" stroke-width="2.8"/>
<text transform="translate(453.5,1526.8) scale(1.07,1)" font-size="17.0" text-anchor="middle" fill="#1a1a1a">0.3</text>
<line x1="567.7" y1="1500.9" x2="567.7" y2="1512.4" stroke="#333" stroke-width="2.8"/>
<text transform="translate(567.3,1526.8) scale(1.07,1)" font-size="17.0" text-anchor="middle" fill="#1a1a1a">0.4</text>
<text x="111.8" y="840.1" font-size="32.4" fill="#000">KDM Age Acceleration</text>
<text x="368.0" y="1561.2" font-size="28.6" text-anchor="middle" fill="#000">Uric Acid to High−density Cholesterol ratio</text>
<text transform="translate(24.0,1154.5) rotate(-90) scale(1,1.07)" font-size="28.3" text-anchor="middle" fill="#000">Odds Ratio (95% CI)</text>
<text x="339.5" y="1387.4" font-size="22.7" fill="#000">P−overall = &lt;.0001</text>
<text x="339.5" y="1420.3" font-size="22.7" fill="#000">P−non−linear = 0.0694</text>
<path d="M791.1,1332.2 L793.1,1332.0 L795.1,1331.8 L797.2,1331.6 L799.2,1331.5 L801.2,1331.3 L803.2,1331.1 L805.3,1330.9 L807.3,1330.7 L809.3,1330.5 L811.3,1330.3 L813.4,1330.1 L815.4,1329.9 L817.4,1329.7 L819.4,1329.5 L821.4,1329.3 L823.5,1329.1 L825.5,1328.9 L827.5,1328.7 L829.5,1328.5 L831.6,1328.3 L833.6,1328.1 L835.6,1327.9 L837.6,1327.7 L839.7,1327.5 L841.7,1327.2 L843.7,1327.0 L845.7,1326.8 L847.7,1326.6 L849.8,1326.3 L851.8,1326.1 L853.8,1325.9 L855.8,1325.7 L857.9,1325.4 L859.9,1325.2 L861.9,1324.9 L863.9,1324.7 L866.0,1324.5 L868.0,1324.2 L870.0,1324.0 L872.0,1323.7 L874.0,1323.5 L876.1,1323.2 L878.1,1323.0 L880.1,1322.7 L882.1,1322.4 L884.2,1322.2 L886.2,1321.9 L888.2,1321.6 L890.2,1321.4 L892.3,1321.1 L894.3,1320.8 L896.3,1320.6 L898.3,1320.3 L900.4,1320.0 L902.4,1319.7 L904.4,1319.4 L906.4,1319.1 L908.4,1318.8 L910.5,1318.6 L912.5,1318.3 L914.5,1318.0 L916.5,1317.7 L918.6,1317.4 L920.6,1317.1 L922.6,1316.8 L924.6,1316.4 L926.7,1316.1 L928.7,1315.8 L930.7,1315.5 L932.7,1315.2 L934.7,1314.9 L936.8,1314.6 L938.8,1314.2 L940.8,1313.9 L942.8,1313.6 L944.9,1313.2 L946.9,1312.9 L948.9,1312.6 L950.9,1312.2 L953.0,1311.9 L955.0,1311.6 L957.0,1311.2 L959.0,1312.3 L961.0,1311.7 L963.0,1311.0 L965.0,1310.4 L967.0,1309.7 L969.0,1309.0 L971.0,1308.4 L973.0,1307.7 L975.0,1307.0 L977.1,1306.3 L979.1,1305.6 L981.1,1304.8 L983.1,1304.1 L985.1,1303.4 L987.1,1302.6 L989.1,1301.8 L991.1,1301.0 L993.1,1300.3 L995.1,1299.4 L997.1,1298.6 L999.1,1297.8 L1001.1,1296.9 L1003.1,1296.1 L1005.1,1295.2 L1007.1,1294.3 L1009.1,1293.4 L1011.1,1292.5 L1013.1,1291.5 L1015.1,1290.6 L1017.2,1289.6 L1019.2,1288.6 L1021.2,1287.6 L1023.2,1286.5 L1025.2,1285.5 L1027.2,1284.4 L1029.2,1283.3 L1031.2,1282.2 L1033.2,1281.1 L1035.2,1279.9 L1037.2,1278.7 L1039.2,1277.5 L1041.2,1276.3 L1043.2,1275.1 L1045.2,1273.8 L1047.2,1272.6 L1049.2,1271.3 L1051.2,1269.9 L1053.2,1268.6 L1055.3,1267.2 L1057.3,1265.8 L1059.3,1264.4 L1061.3,1263.0 L1063.3,1261.5 L1065.3,1260.0 L1067.3,1258.5 L1069.3,1257.0 L1071.3,1255.4 L1073.3,1253.8 L1075.3,1252.2 L1077.3,1250.6 L1079.3,1248.9 L1081.3,1247.3 L1083.3,1245.6 L1085.3,1243.8 L1087.3,1242.1 L1089.3,1240.3 L1091.3,1238.5 L1093.3,1236.6 L1095.4,1234.8 L1097.4,1232.9 L1099.4,1230.9 L1101.4,1229.0 L1103.4,1227.0 L1105.4,1225.0 L1107.4,1222.9 L1109.4,1220.8 L1111.4,1218.7 L1113.4,1216.5 L1115.4,1214.3 L1117.4,1212.1 L1119.4,1209.8 L1121.4,1207.5 L1123.4,1205.2 L1125.4,1202.8 L1127.4,1200.4 L1129.4,1197.9 L1131.4,1195.4 L1133.5,1192.8 L1135.5,1190.2 L1137.5,1187.5 L1139.5,1184.8 L1141.5,1182.0 L1143.5,1179.2 L1145.5,1176.4 L1147.5,1173.5 L1149.5,1170.5 L1151.5,1167.5 L1153.5,1164.4 L1155.5,1161.3 L1157.5,1158.1 L1159.5,1154.9 L1161.5,1151.6 L1163.5,1148.3 L1165.5,1144.9 L1167.5,1141.4 L1169.5,1137.9 L1171.5,1134.3 L1173.6,1130.7 L1175.6,1127.1 L1177.6,1123.4 L1179.6,1119.6 L1181.6,1115.8 L1183.6,1111.9 L1185.6,1108.0 L1187.6,1104.1 L1189.6,1100.1 L1191.6,1096.1 L1193.6,1092.0 L1195.6,1087.9 L1197.6,1083.8 L1199.6,1079.5 L1201.6,1075.3 L1203.6,1071.0 L1205.6,1066.6 L1207.6,1062.1 L1209.6,1057.6 L1211.7,1053.0 L1213.7,1048.3 L1215.7,1043.5 L1217.7,1038.7 L1219.7,1033.7 L1221.7,1028.6 L1223.7,1023.5 L1225.7,1018.2 L1227.7,1012.9 L1229.7,1007.5 L1231.7,1002.0 L1233.7,996.4 L1235.7,990.8 L1237.7,985.1 L1239.7,979.4 L1241.7,973.7 L1243.7,968.0 L1245.7,962.2 L1247.7,956.3 L1249.7,950.4 L1251.8,944.5 L1253.8,938.5 L1255.8,932.5 L1257.8,926.4 L1259.8,920.1 L1261.8,913.8 L1263.8,907.4 L1265.8,900.9 L1267.8,894.2 L1269.8,887.5 L1269.8,1098.0 L1267.8,1100.5 L1265.8,1103.1 L1263.8,1105.6 L1261.8,1108.1 L1259.8,1110.6 L1257.8,1113.1 L1255.8,1115.5 L1253.8,1118.0 L1251.8,1120.4 L1249.7,1122.9 L1247.7,1125.3 L1245.7,1127.7 L1243.7,1130.2 L1241.7,1132.6 L1239.7,1135.0 L1237.7,1137.4 L1235.7,1139.8 L1233.7,1142.2 L1231.7,1144.6 L1229.7,1146.9 L1227.7,1149.3 L1225.7,1151.6 L1223.7,1153.9 L1221.7,1156.2 L1219.7,1158.5 L1217.7,1160.8 L1215.7,1163.0 L1213.7,1165.2 L1211.7,1167.4 L1209.6,1169.6 L1207.6,1171.8 L1205.6,1173.9 L1203.6,1176.0 L1201.6,1178.1 L1199.6,1180.1 L1197.6,1182.2 L1195.6,1184.2 L1193.6,1186.2 L1191.6,1188.1 L1189.6,1190.0 L1187.6,1191.9 L1185.6,1193.8 L1183.6,1195.7 L1181.6,1197.5 L1179.6,1199.3 L1177.6,1201.1 L1175.6,1202.9 L1173.6,1204.6 L1171.5,1206.3 L1169.5,1208.0 L1167.5,1209.7 L1165.5,1211.4 L1163.5,1213.0 L1161.5,1214.6 L1159.5,1216.1 L1157.5,1217.7 L1155.5,1219.2 L1153.5,1220.7 L1151.5,1222.2 L1149.5,1223.7 L1147.5,1225.1 L1145.5,1226.5 L1143.5,1227.9 L1141.5,1229.3 L1139.5,1230.7 L1137.5,1232.0 L1135.5,1233.3 L1133.5,1234.6 L1131.4,1235.9 L1129.4,1237.2 L1127.4,1238.4 L1125.4,1239.7 L1123.4,1240.9 L1121.4,1242.1 L1119.4,1243.3 L1117.4,1244.5 L1115.4,1245.6 L1113.4,1246.8 L1111.4,1247.9 L1109.4,1249.1 L1107.4,1250.2 L1105.4,1251.3 L1103.4,1252.4 L1101.4,1253.5 L1099.4,1254.6 L1097.4,1255.7 L1095.4,1256.8 L1093.3,1257.9 L1091.3,1258.9 L1089.3,1260.0 L1087.3,1261.0 L1085.3,1262.1 L1083.3,1263.1 L1081.3,1264.2 L1079.3,1265.2 L1077.3,1266.2 L1075.3,1267.3 L1073.3,1268.3 L1071.3,1269.3 L1069.3,1270.3 L1067.3,1271.3 L1065.3,1272.3 L1063.3,1273.3 L1061.3,1274.2 L1059.3,1275.2 L1057.3,1276.2 L1055.3,1277.1 L1053.2,1278.1 L1051.2,1279.0 L1049.2,1280.0 L1047.2,1280.9 L1045.2,1281.8 L1043.2,1282.7 L1041.2,1283.6 L1039.2,1284.5 L1037.2,1285.4 L1035.2,1286.3 L1033.2,1287.2 L1031.2,1288.0 L1029.2,1288.9 L1027.2,1289.7 L1025.2,1290.5 L1023.2,1291.3 L1021.2,1292.1 L1019.2,1292.9 L1017.2,1293.7 L1015.1,1294.5 L1013.1,1295.3 L1011.1,1296.0 L1009.1,1296.7 L1007.1,1297.5 L1005.1,1298.2 L1003.1,1298.9 L1001.1,1299.6 L999.1,1300.3 L997.1,1301.0 L995.1,1301.6 L993.1,1302.3 L991.1,1302.9 L989.1,1303.6 L987.1,1304.2 L985.1,1304.8 L983.1,1305.4 L981.1,1306.0 L979.1,1306.6 L977.1,1307.2 L975.0,1307.8 L973.0,1308.4 L971.0,1308.9 L969.0,1309.5 L967.0,1310.1 L965.0,1310.6 L963.0,1311.2 L961.0,1311.7 L959.0,1312.2 L957.0,1310.9 L955.0,1311.5 L953.0,1312.1 L950.9,1312.6 L948.9,1313.2 L946.9,1313.7 L944.9,1314.3 L942.8,1314.8 L940.8,1315.3 L938.8,1315.8 L936.8,1316.4 L934.7,1316.9 L932.7,1317.4 L930.7,1317.9 L928.7,1318.4 L926.7,1318.9 L924.6,1319.4 L922.6,1319.8 L920.6,1320.3 L918.6,1320.8 L916.5,1321.3 L914.5,1321.7 L912.5,1322.2 L910.5,1322.6 L908.4,1323.1 L906.4,1323.5 L904.4,1324.0 L902.4,1324.4 L900.4,1324.9 L898.3,1325.3 L896.3,1325.7 L894.3,1326.1 L892.3,1326.6 L890.2,1327.0 L888.2,1327.4 L886.2,1327.8 L884.2,1328.2 L882.1,1328.6 L880.1,1329.0 L878.1,1329.4 L876.1,1329.8 L874.0,1330.2 L872.0,1330.5 L870.0,1330.9 L868.0,1331.3 L866.0,1331.7 L863.9,1332.0 L861.9,1332.4 L859.9,1332.8 L857.9,1333.1 L855.8,1333.5 L853.8,1333.8 L851.8,1334.1 L849.8,1334.5 L847.7,1334.8 L845.7,1335.2 L843.7,1335.5 L841.7,1335.8 L839.7,1336.1 L837.6,1336.5 L835.6,1336.8 L833.6,1337.1 L831.6,1337.4 L829.5,1337.7 L827.5,1338.0 L825.5,1338.3 L823.5,1338.6 L821.4,1338.9 L819.4,1339.2 L817.4,1339.5 L815.4,1339.8 L813.4,1340.0 L811.3,1340.3 L809.3,1340.6 L807.3,1340.9 L805.3,1341.1 L803.2,1341.4 L801.2,1341.7 L799.2,1341.9 L797.2,1342.2 L795.1,1342.4 L793.1,1342.7 L791.1,1342.9 Z" fill="#e4e4e4"/>
<line x1="732.8" y1="1311.1" x2="1305.6" y2="1311.1" stroke="#cdcdcd" stroke-width="1.3" stroke-dasharray="4.8 4.92"/>
<path d="M791.1,1337.7 L793.1,1337.5 L795.1,1337.2 L797.2,1337.0 L799.2,1336.8 L801.2,1336.5 L803.2,1336.3 L805.3,1336.1 L807.3,1335.8 L809.3,1335.6 L811.3,1335.3 L813.4,1335.1 L815.4,1334.8 L817.4,1334.6 L819.4,1334.3 L821.4,1334.1 L823.5,1333.8 L825.5,1333.6 L827.5,1333.3 L829.5,1333.0 L831.6,1332.8 L833.6,1332.5 L835.6,1332.2 L837.6,1331.9 L839.7,1331.7 L841.7,1331.4 L843.7,1331.1 L845.7,1330.8 L847.7,1330.5 L849.8,1330.2 L851.8,1330.0 L853.8,1329.7 L855.8,1329.4 L857.9,1329.1 L859.9,1328.8 L861.9,1328.5 L863.9,1328.1 L866.0,1327.8 L868.0,1327.5 L870.0,1327.2 L872.0,1326.9 L874.0,1326.6 L876.1,1326.2 L878.1,1325.9 L880.1,1325.6 L882.1,1325.3 L884.2,1324.9 L886.2,1324.6 L888.2,1324.2 L890.2,1323.9 L892.3,1323.6 L894.3,1323.2 L896.3,1322.9 L898.3,1322.5 L900.4,1322.1 L902.4,1321.8 L904.4,1321.4 L906.4,1321.1 L908.4,1320.7 L910.5,1320.3 L912.5,1320.0 L914.5,1319.6 L916.5,1319.2 L918.6,1318.8 L920.6,1318.5 L922.6,1318.1 L924.6,1317.7 L926.7,1317.3 L928.7,1316.9 L930.7,1316.5 L932.7,1316.1 L934.7,1315.7 L936.8,1315.3 L938.8,1314.9 L940.8,1314.5 L942.8,1314.1 L944.9,1313.7 L946.9,1313.3 L948.9,1312.8 L950.9,1312.4 L953.0,1312.0 L955.0,1311.5 L957.0,1311.1 L959.0,1311.8 L961.0,1311.3 L963.0,1310.7 L965.0,1310.1 L967.0,1309.4 L969.0,1308.8 L971.0,1308.2 L973.0,1307.6 L975.0,1306.9 L977.1,1306.3 L979.1,1305.6 L981.1,1305.0 L983.1,1304.3 L985.1,1303.6 L987.1,1302.9 L989.1,1302.2 L991.1,1301.5 L993.1,1300.8 L995.1,1300.0 L997.1,1299.3 L999.1,1298.5 L1001.1,1297.8 L1003.1,1297.0 L1005.1,1296.2 L1007.1,1295.4 L1009.1,1294.6 L1011.1,1293.8 L1013.1,1292.9 L1015.1,1292.1 L1017.2,1291.2 L1019.2,1290.3 L1021.2,1289.4 L1023.2,1288.5 L1025.2,1287.6 L1027.2,1286.7 L1029.2,1285.8 L1031.2,1284.8 L1033.2,1283.8 L1035.2,1282.9 L1037.2,1281.9 L1039.2,1280.9 L1041.2,1279.8 L1043.2,1278.8 L1045.2,1277.7 L1047.2,1276.7 L1049.2,1275.6 L1051.2,1274.5 L1053.2,1273.4 L1055.3,1272.3 L1057.3,1271.1 L1059.3,1269.9 L1061.3,1268.8 L1063.3,1267.6 L1065.3,1266.4 L1067.3,1265.1 L1069.3,1263.9 L1071.3,1262.6 L1073.3,1261.3 L1075.3,1260.0 L1077.3,1258.7 L1079.3,1257.4 L1081.3,1256.0 L1083.3,1254.7 L1085.3,1253.3 L1087.3,1251.8 L1089.3,1250.4 L1091.3,1248.9 L1093.3,1247.5 L1095.4,1246.0 L1097.4,1244.5 L1099.4,1242.9 L1101.4,1241.3 L1103.4,1239.8 L1105.4,1238.1 L1107.4,1236.5 L1109.4,1234.9 L1111.4,1233.2 L1113.4,1231.5 L1115.4,1229.7 L1117.4,1228.0 L1119.4,1226.2 L1121.4,1224.4 L1123.4,1222.5 L1125.4,1220.7 L1127.4,1218.8 L1129.4,1216.9 L1131.4,1215.0 L1133.5,1213.0 L1135.5,1211.0 L1137.5,1209.0 L1139.5,1207.0 L1141.5,1205.0 L1143.5,1202.9 L1145.5,1200.8 L1147.5,1198.7 L1149.5,1196.5 L1151.5,1194.4 L1153.5,1192.2 L1155.5,1190.0 L1157.5,1187.7 L1159.5,1185.5 L1161.5,1183.2 L1163.5,1180.9 L1165.5,1178.6 L1167.5,1176.2 L1169.5,1173.8 L1171.5,1171.4 L1173.6,1168.9 L1175.6,1166.4 L1177.6,1163.9 L1179.6,1161.4 L1181.6,1158.8 L1183.6,1156.2 L1185.6,1153.6 L1187.6,1151.0 L1189.6,1148.3 L1191.6,1145.6 L1193.6,1142.8 L1195.6,1140.1 L1197.6,1137.3 L1199.6,1134.5 L1201.6,1131.6 L1203.6,1128.7 L1205.6,1125.8 L1207.6,1122.8 L1209.6,1119.8 L1211.7,1116.8 L1213.7,1113.7 L1215.7,1110.6 L1217.7,1107.4 L1219.7,1104.1 L1221.7,1100.8 L1223.7,1097.5 L1225.7,1094.1 L1227.7,1090.6 L1229.7,1087.0 L1231.7,1083.4 L1233.7,1079.8 L1235.7,1076.0 L1237.7,1072.3 L1239.7,1068.4 L1241.7,1064.5 L1243.7,1060.6 L1245.7,1056.7 L1247.7,1052.7 L1249.7,1048.6 L1251.8,1044.6 L1253.8,1040.5 L1255.8,1036.4 L1257.8,1032.2 L1259.8,1028.1 L1261.8,1023.9 L1263.8,1019.7 L1265.8,1015.4 L1267.8,1011.1 L1269.8,1006.8" fill="none" stroke="#6a6a6a" stroke-width="3" stroke-linejoin="round"/>
<line x1="731.7" y1="807.6" x2="731.7" y2="1501.4" stroke="#000" stroke-width="3"/>
<line x1="730.2" y1="1499.9" x2="1305.6" y2="1499.9" stroke="#000" stroke-width="3"/>
<line x1="719.2" y1="1468.6" x2="730.7" y2="1468.6" stroke="#333" stroke-width="2.4"/>
<text transform="translate(715.9,1474.6) scale(1.07,1)" font-size="17.0" text-anchor="end" fill="#1a1a1a">−2</text>
<line x1="719.2" y1="1363.6" x2="730.7" y2="1363.6" stroke="#333" stroke-width="2.4"/>
<text transform="translate(715.9,1369.6) scale(1.07,1)" font-size="17.0" text-anchor="end" fill="#1a1a1a">0</text>
<line x1="719.2" y1="1258.6" x2="730.7" y2="1258.6" stroke="#333" stroke-width="2.4"/>
<text transform="translate(715.9,1264.6) scale(1.07,1)" font-size="17.0" text-anchor="end" fill="#1a1a1a">2</text>
<line x1="719.2" y1="1153.6" x2="730.7" y2="1153.6" stroke="#333" stroke-width="2.4"/>
<text transform="translate(715.9,1159.6) scale(1.07,1)" font-size="17.0" text-anchor="end" fill="#1a1a1a">4</text>
<line x1="719.2" y1="1048.6" x2="730.7" y2="1048.6" stroke="#333" stroke-width="2.4"/>
<text transform="translate(715.9,1054.6) scale(1.07,1)" font-size="17.0" text-anchor="end" fill="#1a1a1a">6</text>
<line x1="719.2" y1="943.6" x2="730.7" y2="943.6" stroke="#333" stroke-width="2.4"/>
<text transform="translate(715.9,949.6) scale(1.07,1)" font-size="17.0" text-anchor="end" fill="#1a1a1a">8</text>
<line x1="719.2" y1="838.6" x2="730.7" y2="838.6" stroke="#333" stroke-width="2.4"/>
<text transform="translate(715.9,844.6) scale(1.07,1)" font-size="17.0" text-anchor="end" fill="#1a1a1a">10</text>
<line x1="757.7" y1="1500.9" x2="757.7" y2="1512.4" stroke="#333" stroke-width="2.8"/>
<text transform="translate(757.3,1526.8) scale(1.07,1)" font-size="17.0" text-anchor="middle" fill="#1a1a1a">1</text>
<line x1="852.4" y1="1500.9" x2="852.4" y2="1512.4" stroke="#333" stroke-width="2.8"/>
<text transform="translate(852.0,1526.8) scale(1.07,1)" font-size="17.0" text-anchor="middle" fill="#1a1a1a">3</text>
<line x1="947.4" y1="1500.9" x2="947.4" y2="1512.4" stroke="#333" stroke-width="2.8"/>
<text transform="translate(947.0,1526.8) scale(1.07,1)" font-size="17.0" text-anchor="middle" fill="#1a1a1a">5</text>
<line x1="1042.2" y1="1500.9" x2="1042.2" y2="1512.4" stroke="#333" stroke-width="2.8"/>
<text transform="translate(1041.8,1526.8) scale(1.07,1)" font-size="17.0" text-anchor="middle" fill="#1a1a1a">7</text>
<line x1="1137.2" y1="1500.9" x2="1137.2" y2="1512.4" stroke="#333" stroke-width="2.8"/>
<text transform="translate(1136.8,1526.8) scale(1.07,1)" font-size="17.0" text-anchor="middle" fill="#1a1a1a">9</text>
<line x1="1232.2" y1="1500.9" x2="1232.2" y2="1512.4" stroke="#333" stroke-width="2.8"/>
<text transform="translate(1231.8,1526.8) scale(1.07,1)" font-size="17.0" text-anchor="middle" fill="#1a1a1a">11</text>
<text x="756.2" y="840.1" font-size="32.4" fill="#000">KDM Age Acceleration</text>
<text x="1018.6" y="1561.2" font-size="28.6" text-anchor="middle" fill="#000">Uric Acid (mg/dL)</text>
<text transform="translate(679.8,1154.5) rotate(-90) scale(1,1.07)" font-size="28.3" text-anchor="middle" fill="#000">Odds Ratio (95% CI)</text>
<text x="1041.6" y="1381.2" font-size="22.7" fill="#000">P−overall = &lt;.0001</text>
<text x="1041.6" y="1414.2" font-size="22.7" fill="#000">P−non−linear = 0.0485</text>
<path d="M1492.1,1045.2 L1494.1,1050.2 L1496.1,1055.1 L1498.1,1059.9 L1500.1,1064.7 L1502.1,1069.4 L1504.1,1074.2 L1506.1,1079.0 L1508.2,1083.8 L1510.2,1088.6 L1512.2,1093.5 L1514.2,1098.3 L1516.2,1103.2 L1518.2,1107.9 L1520.2,1112.6 L1522.2,1117.3 L1524.2,1121.8 L1526.2,1126.2 L1528.2,1130.6 L1530.2,1134.8 L1532.2,1138.9 L1534.2,1142.9 L1536.2,1146.7 L1538.3,1150.5 L1540.3,1154.1 L1542.3,1157.5 L1544.3,1160.9 L1546.3,1164.1 L1548.3,1167.2 L1550.3,1170.1 L1552.3,1173.0 L1554.3,1175.7 L1556.3,1178.3 L1558.3,1180.7 L1560.3,1183.0 L1562.3,1185.2 L1564.3,1187.3 L1566.4,1189.3 L1568.4,1191.2 L1570.4,1193.0 L1572.4,1194.7 L1574.4,1196.3 L1576.4,1197.8 L1578.4,1199.2 L1580.4,1200.5 L1582.4,1201.8 L1584.4,1203.0 L1586.4,1204.1 L1588.4,1205.2 L1590.4,1206.2 L1592.4,1207.1 L1594.4,1208.0 L1596.5,1208.9 L1598.5,1209.7 L1600.5,1210.4 L1602.5,1211.2 L1604.5,1211.9 L1606.5,1212.6 L1608.5,1213.3 L1610.5,1213.9 L1612.5,1212.7 L1614.5,1212.2 L1616.5,1211.6 L1618.5,1211.1 L1620.5,1210.5 L1622.6,1209.9 L1624.6,1209.4 L1626.6,1208.8 L1628.6,1208.2 L1630.6,1207.7 L1632.6,1207.1 L1634.6,1206.5 L1636.6,1206.0 L1638.6,1205.4 L1640.6,1204.8 L1642.6,1204.3 L1644.7,1203.7 L1646.7,1203.1 L1648.7,1202.6 L1650.7,1202.0 L1652.7,1201.5 L1654.7,1200.9 L1656.7,1200.4 L1658.7,1199.9 L1660.7,1199.3 L1662.7,1198.8 L1664.7,1198.3 L1666.8,1197.8 L1668.8,1197.2 L1670.8,1196.7 L1672.8,1196.2 L1674.8,1195.7 L1676.8,1195.2 L1678.8,1194.7 L1680.8,1194.2 L1682.8,1193.7 L1684.8,1193.2 L1686.8,1192.7 L1688.9,1192.2 L1690.9,1191.7 L1692.9,1191.2 L1694.9,1190.7 L1696.9,1190.2 L1698.9,1189.7 L1700.9,1189.1 L1702.9,1188.6 L1704.9,1188.1 L1706.9,1187.6 L1709.0,1187.1 L1711.0,1186.5 L1713.0,1186.0 L1715.0,1185.5 L1717.0,1184.9 L1719.0,1184.4 L1721.0,1183.8 L1723.0,1183.3 L1725.0,1182.7 L1727.0,1182.1 L1729.0,1181.6 L1731.1,1181.0 L1733.1,1180.4 L1735.1,1179.8 L1737.1,1179.2 L1739.1,1178.6 L1741.1,1178.0 L1743.1,1177.4 L1745.1,1176.7 L1747.1,1176.1 L1749.1,1175.5 L1751.1,1174.9 L1753.2,1174.2 L1755.2,1173.6 L1757.2,1172.9 L1759.2,1172.3 L1761.2,1171.6 L1763.2,1171.0 L1765.2,1170.3 L1767.2,1169.7 L1769.2,1169.0 L1771.2,1168.3 L1773.2,1167.7 L1775.3,1167.0 L1777.3,1166.3 L1779.3,1165.6 L1781.3,1164.9 L1783.3,1164.3 L1785.3,1163.6 L1787.3,1162.9 L1789.3,1162.2 L1791.3,1161.4 L1793.3,1160.7 L1795.3,1160.0 L1797.4,1159.3 L1799.4,1158.5 L1801.4,1157.8 L1803.4,1157.0 L1805.4,1156.2 L1807.4,1155.5 L1809.4,1154.7 L1811.4,1153.9 L1813.4,1153.0 L1815.4,1152.2 L1817.4,1151.4 L1819.5,1150.5 L1821.5,1149.7 L1823.5,1148.8 L1825.5,1147.9 L1827.5,1147.0 L1829.5,1146.1 L1831.5,1145.2 L1833.5,1144.2 L1835.5,1143.3 L1837.5,1142.3 L1839.5,1141.3 L1841.6,1140.3 L1843.6,1139.3 L1845.6,1138.3 L1847.6,1137.2 L1849.6,1136.2 L1851.6,1135.1 L1853.6,1134.1 L1855.6,1133.0 L1857.6,1131.9 L1859.6,1130.8 L1861.6,1129.6 L1863.7,1128.5 L1865.7,1127.3 L1867.7,1126.2 L1869.7,1125.0 L1871.7,1123.8 L1873.7,1122.6 L1875.7,1121.4 L1877.7,1120.3 L1879.7,1119.1 L1881.7,1117.8 L1883.8,1116.6 L1885.8,1115.4 L1887.8,1114.2 L1889.8,1113.0 L1891.8,1111.8 L1893.8,1110.6 L1895.8,1109.4 L1897.8,1108.2 L1899.8,1107.0 L1901.8,1105.8 L1903.8,1104.7 L1905.9,1103.5 L1907.9,1102.3 L1909.9,1101.1 L1911.9,1099.9 L1913.9,1098.8 L1915.9,1097.6 L1917.9,1096.5 L1919.9,1095.4 L1921.9,1094.2 L1923.9,1093.1 L1925.9,1092.0 L1928.0,1090.9 L1930.0,1089.8 L1932.0,1088.7 L1934.0,1087.7 L1936.0,1086.6 L1938.0,1085.5 L1940.0,1084.5 L1942.0,1083.4 L1944.0,1082.4 L1946.0,1081.4 L1948.0,1080.3 L1950.1,1079.3 L1952.1,1078.2 L1954.1,1077.2 L1956.1,1076.2 L1958.1,1075.1 L1960.1,1074.1 L1960.1,1220.8 L1958.1,1220.7 L1956.1,1220.5 L1954.1,1220.4 L1952.1,1220.3 L1950.1,1220.2 L1948.0,1220.1 L1946.0,1220.0 L1944.0,1219.9 L1942.0,1219.8 L1940.0,1219.6 L1938.0,1219.5 L1936.0,1219.4 L1934.0,1219.3 L1932.0,1219.2 L1930.0,1219.1 L1928.0,1219.0 L1925.9,1218.9 L1923.9,1218.8 L1921.9,1218.6 L1919.9,1218.5 L1917.9,1218.4 L1915.9,1218.3 L1913.9,1218.2 L1911.9,1218.1 L1909.9,1218.0 L1907.9,1217.9 L1905.9,1217.8 L1903.8,1217.7 L1901.8,1217.6 L1899.8,1217.5 L1897.8,1217.4 L1895.8,1217.3 L1893.8,1217.2 L1891.8,1217.1 L1889.8,1217.0 L1887.8,1216.9 L1885.8,1216.8 L1883.8,1216.7 L1881.7,1216.6 L1879.7,1216.5 L1877.7,1216.4 L1875.7,1216.3 L1873.7,1216.2 L1871.7,1216.1 L1869.7,1216.0 L1867.7,1215.9 L1865.7,1215.8 L1863.7,1215.7 L1861.6,1215.6 L1859.6,1215.5 L1857.6,1215.5 L1855.6,1215.4 L1853.6,1215.3 L1851.6,1215.2 L1849.6,1215.1 L1847.6,1215.1 L1845.6,1215.0 L1843.6,1214.9 L1841.6,1214.8 L1839.5,1214.8 L1837.5,1214.7 L1835.5,1214.6 L1833.5,1214.6 L1831.5,1214.5 L1829.5,1214.5 L1827.5,1214.4 L1825.5,1214.4 L1823.5,1214.3 L1821.5,1214.3 L1819.5,1214.2 L1817.4,1214.2 L1815.4,1214.2 L1813.4,1214.1 L1811.4,1214.1 L1809.4,1214.1 L1807.4,1214.1 L1805.4,1214.0 L1803.4,1214.0 L1801.4,1214.0 L1799.4,1214.0 L1797.4,1214.0 L1795.3,1214.0 L1793.3,1214.0 L1791.3,1214.1 L1789.3,1214.1 L1787.3,1214.1 L1785.3,1214.1 L1783.3,1214.1 L1781.3,1214.2 L1779.3,1214.2 L1777.3,1214.2 L1775.3,1214.3 L1773.2,1214.3 L1771.2,1214.3 L1769.2,1214.4 L1767.2,1214.4 L1765.2,1214.5 L1763.2,1214.5 L1761.2,1214.6 L1759.2,1214.7 L1757.2,1214.7 L1755.2,1214.8 L1753.2,1214.8 L1751.1,1214.9 L1749.1,1215.0 L1747.1,1215.1 L1745.1,1215.1 L1743.1,1215.2 L1741.1,1215.3 L1739.1,1215.4 L1737.1,1215.4 L1735.1,1215.5 L1733.1,1215.6 L1731.1,1215.7 L1729.0,1215.7 L1727.0,1215.8 L1725.0,1215.9 L1723.0,1215.9 L1721.0,1216.0 L1719.0,1216.1 L1717.0,1216.2 L1715.0,1216.2 L1713.0,1216.3 L1711.0,1216.4 L1709.0,1216.4 L1706.9,1216.5 L1704.9,1216.6 L1702.9,1216.6 L1700.9,1216.7 L1698.9,1216.7 L1696.9,1216.8 L1694.9,1216.9 L1692.9,1216.9 L1690.9,1217.0 L1688.9,1217.0 L1686.8,1217.1 L1684.8,1217.1 L1682.8,1217.2 L1680.8,1217.2 L1678.8,1217.3 L1676.8,1217.3 L1674.8,1217.3 L1672.8,1217.4 L1670.8,1217.4 L1668.8,1217.4 L1666.8,1217.4 L1664.7,1217.4 L1662.7,1217.4 L1660.7,1217.4 L1658.7,1217.4 L1656.7,1217.4 L1654.7,1217.3 L1652.7,1217.3 L1650.7,1217.2 L1648.7,1217.1 L1646.7,1217.1 L1644.7,1217.0 L1642.6,1216.9 L1640.6,1216.8 L1638.6,1216.6 L1636.6,1216.5 L1634.6,1216.4 L1632.6,1216.2 L1630.6,1216.1 L1628.6,1215.9 L1626.6,1215.7 L1624.6,1215.6 L1622.6,1215.4 L1620.5,1215.2 L1618.5,1215.0 L1616.5,1214.8 L1614.5,1214.6 L1612.5,1214.4 L1610.5,1213.9 L1608.5,1213.5 L1606.5,1213.0 L1604.5,1212.6 L1602.5,1212.2 L1600.5,1211.7 L1598.5,1211.2 L1596.5,1210.7 L1594.4,1210.1 L1592.4,1209.6 L1590.4,1208.9 L1588.4,1208.2 L1586.4,1207.5 L1584.4,1206.7 L1582.4,1205.9 L1580.4,1205.1 L1578.4,1204.2 L1576.4,1203.2 L1574.4,1202.3 L1572.4,1201.3 L1570.4,1200.3 L1568.4,1199.2 L1566.4,1198.2 L1564.3,1197.1 L1562.3,1196.0 L1560.3,1194.9 L1558.3,1193.8 L1556.3,1192.7 L1554.3,1191.6 L1552.3,1190.5 L1550.3,1189.4 L1548.3,1188.3 L1546.3,1187.1 L1544.3,1186.0 L1542.3,1184.9 L1540.3,1183.8 L1538.3,1182.7 L1536.2,1181.6 L1534.2,1180.5 L1532.2,1179.4 L1530.2,1178.3 L1528.2,1177.3 L1526.2,1176.2 L1524.2,1175.2 L1522.2,1174.1 L1520.2,1173.1 L1518.2,1172.1 L1516.2,1171.1 L1514.2,1170.1 L1512.2,1169.1 L1510.2,1168.1 L1508.2,1167.1 L1506.1,1166.2 L1504.1,1165.2 L1502.1,1164.3 L1500.1,1163.3 L1498.1,1162.4 L1496.1,1161.4 L1494.1,1160.4 L1492.1,1159.5 Z" fill="#e4e4e4"/>
<line x1="1443.1" y1="1213.2" x2="2002.7" y2="1213.2" stroke="#cdcdcd" stroke-width="1.3" stroke-dasharray="4.8 4.92"/>
<path d="M1492.1,1108.8 L1494.1,1111.5 L1496.1,1114.2 L1498.1,1116.8 L1500.1,1119.5 L1502.1,1122.1 L1504.1,1124.8 L1506.1,1127.4 L1508.2,1130.0 L1510.2,1132.5 L1512.2,1135.1 L1514.2,1137.6 L1516.2,1140.1 L1518.2,1142.5 L1520.2,1144.9 L1522.2,1147.2 L1524.2,1149.5 L1526.2,1151.8 L1528.2,1154.0 L1530.2,1156.2 L1532.2,1158.3 L1534.2,1160.5 L1536.2,1162.6 L1538.3,1164.6 L1540.3,1166.7 L1542.3,1168.7 L1544.3,1170.7 L1546.3,1172.8 L1548.3,1174.8 L1550.3,1176.8 L1552.3,1178.9 L1554.3,1180.9 L1556.3,1182.9 L1558.3,1184.9 L1560.3,1186.9 L1562.3,1188.8 L1564.3,1190.7 L1566.4,1192.6 L1568.4,1194.4 L1570.4,1196.1 L1572.4,1197.8 L1574.4,1199.4 L1576.4,1200.9 L1578.4,1202.3 L1580.4,1203.6 L1582.4,1204.7 L1584.4,1205.8 L1586.4,1206.8 L1588.4,1207.7 L1590.4,1208.6 L1592.4,1209.3 L1594.4,1210.0 L1596.5,1210.6 L1598.5,1211.2 L1600.5,1211.6 L1602.5,1212.1 L1604.5,1212.5 L1606.5,1212.9 L1608.5,1213.2 L1610.5,1213.6 L1612.5,1213.4 L1614.5,1213.2 L1616.5,1213.0 L1618.5,1212.8 L1620.5,1212.7 L1622.6,1212.5 L1624.6,1212.3 L1626.6,1212.1 L1628.6,1211.9 L1630.6,1211.6 L1632.6,1211.4 L1634.6,1211.2 L1636.6,1211.0 L1638.6,1210.8 L1640.6,1210.6 L1642.6,1210.4 L1644.7,1210.1 L1646.7,1209.9 L1648.7,1209.7 L1650.7,1209.4 L1652.7,1209.2 L1654.7,1209.0 L1656.7,1208.7 L1658.7,1208.5 L1660.7,1208.2 L1662.7,1208.0 L1664.7,1207.7 L1666.8,1207.4 L1668.8,1207.2 L1670.8,1206.9 L1672.8,1206.6 L1674.8,1206.3 L1676.8,1206.1 L1678.8,1205.8 L1680.8,1205.5 L1682.8,1205.2 L1684.8,1204.9 L1686.8,1204.6 L1688.9,1204.3 L1690.9,1204.0 L1692.9,1203.7 L1694.9,1203.4 L1696.9,1203.1 L1698.9,1202.8 L1700.9,1202.5 L1702.9,1202.2 L1704.9,1201.8 L1706.9,1201.5 L1709.0,1201.2 L1711.0,1200.9 L1713.0,1200.6 L1715.0,1200.3 L1717.0,1200.0 L1719.0,1199.7 L1721.0,1199.4 L1723.0,1199.1 L1725.0,1198.8 L1727.0,1198.5 L1729.0,1198.2 L1731.1,1197.9 L1733.1,1197.6 L1735.1,1197.3 L1737.1,1197.0 L1739.1,1196.7 L1741.1,1196.4 L1743.1,1196.1 L1745.1,1195.8 L1747.1,1195.5 L1749.1,1195.2 L1751.1,1194.9 L1753.2,1194.6 L1755.2,1194.3 L1757.2,1194.0 L1759.2,1193.7 L1761.2,1193.4 L1763.2,1193.1 L1765.2,1192.8 L1767.2,1192.5 L1769.2,1192.1 L1771.2,1191.8 L1773.2,1191.5 L1775.3,1191.2 L1777.3,1190.8 L1779.3,1190.5 L1781.3,1190.1 L1783.3,1189.8 L1785.3,1189.4 L1787.3,1189.1 L1789.3,1188.7 L1791.3,1188.3 L1793.3,1188.0 L1795.3,1187.6 L1797.4,1187.2 L1799.4,1186.8 L1801.4,1186.5 L1803.4,1186.1 L1805.4,1185.7 L1807.4,1185.3 L1809.4,1184.9 L1811.4,1184.5 L1813.4,1184.2 L1815.4,1183.8 L1817.4,1183.4 L1819.5,1183.0 L1821.5,1182.6 L1823.5,1182.2 L1825.5,1181.9 L1827.5,1181.5 L1829.5,1181.1 L1831.5,1180.7 L1833.5,1180.3 L1835.5,1180.0 L1837.5,1179.6 L1839.5,1179.2 L1841.6,1178.9 L1843.6,1178.5 L1845.6,1178.2 L1847.6,1177.8 L1849.6,1177.4 L1851.6,1177.1 L1853.6,1176.7 L1855.6,1176.4 L1857.6,1176.0 L1859.6,1175.7 L1861.6,1175.4 L1863.7,1175.0 L1865.7,1174.7 L1867.7,1174.3 L1869.7,1174.0 L1871.7,1173.6 L1873.7,1173.3 L1875.7,1173.0 L1877.7,1172.6 L1879.7,1172.3 L1881.7,1172.0 L1883.8,1171.6 L1885.8,1171.3 L1887.8,1170.9 L1889.8,1170.6 L1891.8,1170.3 L1893.8,1169.9 L1895.8,1169.6 L1897.8,1169.3 L1899.8,1168.9 L1901.8,1168.6 L1903.8,1168.3 L1905.9,1167.9 L1907.9,1167.6 L1909.9,1167.3 L1911.9,1166.9 L1913.9,1166.6 L1915.9,1166.3 L1917.9,1166.0 L1919.9,1165.6 L1921.9,1165.3 L1923.9,1165.0 L1925.9,1164.7 L1928.0,1164.4 L1930.0,1164.1 L1932.0,1163.7 L1934.0,1163.4 L1936.0,1163.1 L1938.0,1162.8 L1940.0,1162.5 L1942.0,1162.2 L1944.0,1161.9 L1946.0,1161.6 L1948.0,1161.3 L1950.1,1161.0 L1952.1,1160.6 L1954.1,1160.3 L1956.1,1160.0 L1958.1,1159.7 L1960.1,1159.4" fill="none" stroke="#6a6a6a" stroke-width="3" stroke-linejoin="round"/>
<line x1="1442.0" y1="807.6" x2="1442.0" y2="1501.4" stroke="#000" stroke-width="3"/>
<line x1="1440.5" y1="1499.9" x2="2002.7" y2="1499.9" stroke="#000" stroke-width="3"/>
<line x1="1429.5" y1="1469.0" x2="1441.0" y2="1469.0" stroke="#333" stroke-width="2.4"/>
<text transform="translate(1426.2,1475.0) scale(1.07,1)" font-size="17.0" text-anchor="end" fill="#1a1a1a">−0.5</text>
<line x1="1429.5" y1="1383.8" x2="1441.0" y2="1383.8" stroke="#333" stroke-width="2.4"/>
<text transform="translate(1426.2,1389.8) scale(1.07,1)" font-size="17.0" text-anchor="end" fill="#1a1a1a">0.0</text>
<line x1="1429.5" y1="1298.6" x2="1441.0" y2="1298.6" stroke="#333" stroke-width="2.4"/>
<text transform="translate(1426.2,1304.6) scale(1.07,1)" font-size="17.0" text-anchor="end" fill="#1a1a1a">0.5</text>
<line x1="1429.5" y1="1213.4" x2="1441.0" y2="1213.4" stroke="#333" stroke-width="2.4"/>
<text transform="translate(1426.2,1219.4) scale(1.07,1)" font-size="17.0" text-anchor="end" fill="#1a1a1a">1.0</text>
<line x1="1429.5" y1="1128.2" x2="1441.0" y2="1128.2" stroke="#333" stroke-width="2.4"/>
<text transform="translate(1426.2,1134.2) scale(1.07,1)" font-size="17.0" text-anchor="end" fill="#1a1a1a">1.5</text>
<line x1="1429.5" y1="1043.0" x2="1441.0" y2="1043.0" stroke="#333" stroke-width="2.4"/>
<text transform="translate(1426.2,1049.0) scale(1.07,1)" font-size="17.0" text-anchor="end" fill="#1a1a1a">2.0</text>
<line x1="1429.5" y1="957.8" x2="1441.0" y2="957.8" stroke="#333" stroke-width="2.4"/>
<text transform="translate(1426.2,963.8) scale(1.07,1)" font-size="17.0" text-anchor="end" fill="#1a1a1a">2.5</text>
<line x1="1429.5" y1="872.6" x2="1441.0" y2="872.6" stroke="#333" stroke-width="2.4"/>
<text transform="translate(1426.2,878.6) scale(1.07,1)" font-size="17.0" text-anchor="end" fill="#1a1a1a">3.0</text>
<line x1="1467.3" y1="1500.9" x2="1467.3" y2="1512.4" stroke="#333" stroke-width="2.8"/>
<text transform="translate(1466.9,1526.8) scale(1.07,1)" font-size="17.0" text-anchor="middle" fill="#1a1a1a">10</text>
<line x1="1537.5" y1="1500.9" x2="1537.5" y2="1512.4" stroke="#333" stroke-width="2.8"/>
<text transform="translate(1537.1,1526.8) scale(1.07,1)" font-size="17.0" text-anchor="middle" fill="#1a1a1a">30</text>
<line x1="1608.1" y1="1500.9" x2="1608.1" y2="1512.4" stroke="#333" stroke-width="2.8"/>
<text transform="translate(1607.7,1526.8) scale(1.07,1)" font-size="17.0" text-anchor="middle" fill="#1a1a1a">50</text>
<line x1="1678.4" y1="1500.9" x2="1678.4" y2="1512.4" stroke="#333" stroke-width="2.8"/>
<text transform="translate(1678.0,1526.8) scale(1.07,1)" font-size="17.0" text-anchor="middle" fill="#1a1a1a">70</text>
<line x1="1748.9" y1="1500.9" x2="1748.9" y2="1512.4" stroke="#333" stroke-width="2.8"/>
<text transform="translate(1748.5,1526.8) scale(1.07,1)" font-size="17.0" text-anchor="middle" fill="#1a1a1a">90</text>
<line x1="1819.2" y1="1500.9" x2="1819.2" y2="1512.4" stroke="#333" stroke-width="2.8"/>
<text transform="translate(1818.8,1526.8) scale(1.07,1)" font-size="17.0" text-anchor="middle" fill="#1a1a1a">110</text>
<line x1="1889.8" y1="1500.9" x2="1889.8" y2="1512.4" stroke="#333" stroke-width="2.8"/>
<text transform="translate(1889.4,1526.8) scale(1.07,1)" font-size="17.0" text-anchor="middle" fill="#1a1a1a">130</text>
<line x1="1960.1" y1="1500.9" x2="1960.1" y2="1512.4" stroke="#333" stroke-width="2.8"/>
<text transform="translate(1959.7,1526.8) scale(1.07,1)" font-size="17.0" text-anchor="middle" fill="#1a1a1a">150</text>
<text x="1466.1" y="840.1" font-size="32.4" fill="#000">KDM Age Acceleration</text>
<text x="1722.3" y="1561.2" font-size="28.6" text-anchor="middle" fill="#000">High−density Cholesterol (mg/dL)</text>
<text transform="translate(1378.9,1154.5) rotate(-90) scale(1,1.07)" font-size="28.3" text-anchor="middle" fill="#000">Odds Ratio (95% CI)</text>
<text x="1466.5" y="1375.0" font-size="22.7" fill="#000">P−overall = &lt;.0001</text>
<text x="1466.5" y="1407.8" font-size="22.7" fill="#000">P−non−linear = &lt;.0001</text>
</svg></body></html>
